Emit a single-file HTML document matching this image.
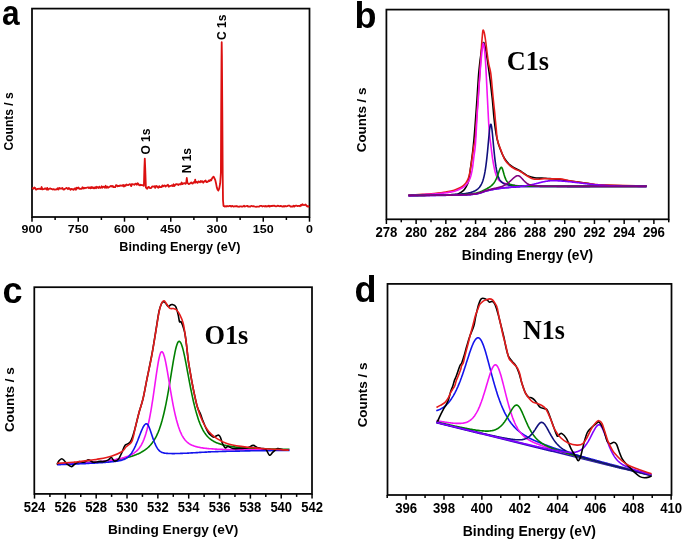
<!DOCTYPE html>
<html><head><meta charset="utf-8"><style>
html,body{margin:0;padding:0;background:#fff;}
body{width:685px;height:541px;overflow:hidden;}
svg{display:block;will-change:transform;}
</style></head><body>
<svg width="685" height="541" viewBox="0 0 685 541">
<rect width="685" height="541" fill="#fff"/>
<text transform="translate(2.0,24.5) scale(0.88,1)" x="0" y="0" style="font-family:'Liberation Sans',sans-serif;font-weight:bold;font-size:36px">a</text>
<rect x="32" y="8.6" width="277.50" height="208.40" fill="none" stroke="#050505" stroke-width="1.75"/>
<line x1="32.00" y1="217" x2="32.00" y2="221.7" stroke="#000" stroke-width="1.5"/>
<text transform="translate(32.00,233.0) scale(1.04,0.92)" text-anchor="middle" style="font-family:'Liberation Sans',sans-serif;font-weight:bold;font-size:12px">900</text>
<line x1="55.12" y1="217" x2="55.12" y2="220.0" stroke="#000" stroke-width="1.5"/>
<line x1="78.25" y1="217" x2="78.25" y2="221.7" stroke="#000" stroke-width="1.5"/>
<text transform="translate(78.25,233.0) scale(1.04,0.92)" text-anchor="middle" style="font-family:'Liberation Sans',sans-serif;font-weight:bold;font-size:12px">750</text>
<line x1="101.38" y1="217" x2="101.38" y2="220.0" stroke="#000" stroke-width="1.5"/>
<line x1="124.50" y1="217" x2="124.50" y2="221.7" stroke="#000" stroke-width="1.5"/>
<text transform="translate(124.50,233.0) scale(1.04,0.92)" text-anchor="middle" style="font-family:'Liberation Sans',sans-serif;font-weight:bold;font-size:12px">600</text>
<line x1="147.62" y1="217" x2="147.62" y2="220.0" stroke="#000" stroke-width="1.5"/>
<line x1="170.75" y1="217" x2="170.75" y2="221.7" stroke="#000" stroke-width="1.5"/>
<text transform="translate(170.75,233.0) scale(1.04,0.92)" text-anchor="middle" style="font-family:'Liberation Sans',sans-serif;font-weight:bold;font-size:12px">450</text>
<line x1="193.88" y1="217" x2="193.88" y2="220.0" stroke="#000" stroke-width="1.5"/>
<line x1="217.00" y1="217" x2="217.00" y2="221.7" stroke="#000" stroke-width="1.5"/>
<text transform="translate(217.00,233.0) scale(1.04,0.92)" text-anchor="middle" style="font-family:'Liberation Sans',sans-serif;font-weight:bold;font-size:12px">300</text>
<line x1="240.12" y1="217" x2="240.12" y2="220.0" stroke="#000" stroke-width="1.5"/>
<line x1="263.25" y1="217" x2="263.25" y2="221.7" stroke="#000" stroke-width="1.5"/>
<text transform="translate(263.25,233.0) scale(1.04,0.92)" text-anchor="middle" style="font-family:'Liberation Sans',sans-serif;font-weight:bold;font-size:12px">150</text>
<line x1="286.38" y1="217" x2="286.38" y2="220.0" stroke="#000" stroke-width="1.5"/>
<line x1="309.50" y1="217" x2="309.50" y2="221.7" stroke="#000" stroke-width="1.5"/>
<text transform="translate(309.50,233.0) scale(1.04,0.92)" text-anchor="middle" style="font-family:'Liberation Sans',sans-serif;font-weight:bold;font-size:12px">0</text>
<text x="179.9" y="250.5" text-anchor="middle" style="font-family:'Liberation Sans',sans-serif;font-weight:bold;font-size:12.7px">Binding Energy (eV)</text>
<text transform="translate(13,121.4) rotate(-90)" text-anchor="middle" style="font-family:'Liberation Sans',sans-serif;font-weight:bold;font-size:12px">Counts / s</text>
<text transform="translate(226.2,27.3) rotate(-90)" text-anchor="middle" style="font-family:'Liberation Sans',sans-serif;font-weight:bold;font-size:12px">C 1s</text>
<text transform="translate(149.6,141.6) rotate(-90)" text-anchor="middle" style="font-family:'Liberation Sans',sans-serif;font-weight:bold;font-size:12px">O 1s</text>
<text transform="translate(190.8,160.7) rotate(-90)" text-anchor="middle" style="font-family:'Liberation Sans',sans-serif;font-weight:bold;font-size:12px">N 1s</text>
<path d="M32.0 187.9L32.8 188.2L33.6 188.8L34.4 187.5L35.2 188.0L36.0 189.6L36.8 189.3L37.6 188.9L38.4 188.9L39.2 188.6L40.0 189.0L40.8 189.2L41.6 187.0L42.4 189.4L43.2 189.1L44.0 189.1L44.8 188.4L45.6 188.5L46.4 189.5L47.2 187.9L48.0 189.7L48.8 189.0L49.6 188.7L50.4 188.4L51.2 188.9L52.0 189.1L52.8 189.5L53.6 189.1L54.4 189.6L55.2 189.7L56.0 189.3L56.8 189.5L57.6 188.3L58.4 189.6L59.2 187.9L60.0 188.6L60.8 188.4L61.6 188.5L62.4 187.9L63.2 189.4L64.0 189.7L64.8 188.9L65.6 188.5L66.4 187.9L67.2 188.3L68.0 189.2L68.8 187.9L69.6 188.6L70.4 189.9L71.2 188.9L72.0 189.3L72.8 189.1L73.6 189.9L74.4 188.7L75.2 188.2L76.0 189.8L76.8 187.6L77.6 188.4L78.4 187.5L79.2 188.8L80.0 188.7L80.8 188.8L81.6 188.8L82.4 187.3L83.2 188.6L84.0 187.7L84.8 188.4L85.6 187.8L86.4 187.8L87.2 187.5L88.0 187.3L88.8 188.0L89.6 187.4L90.4 188.4L91.2 187.0L92.0 188.1L92.8 187.2L93.6 188.3L94.4 188.3L95.2 187.1L96.0 188.3L96.8 186.8L97.6 187.4L98.4 188.0L99.2 186.6L100.0 187.9L100.8 187.8L101.6 186.3L102.4 187.7L103.2 186.7L104.0 186.8L104.8 187.8L105.6 185.8L106.4 187.7L107.2 186.6L108.0 187.7L108.8 187.2L109.6 187.0L110.4 186.1L111.2 185.9L112.0 186.7L112.8 185.9L113.6 187.2L114.4 187.2L115.2 187.1L116.0 185.1L116.8 185.4L117.6 186.4L118.4 185.8L119.2 186.2L120.0 185.4L120.8 185.8L121.6 185.5L122.4 185.8L123.2 185.0L124.0 186.5L124.8 185.1L125.6 185.8L126.4 184.5L127.2 184.9L128.0 185.2L128.8 184.7L129.6 184.2L130.4 184.3L131.2 186.1L132.0 184.0L132.8 184.4L133.6 184.4L134.4 184.8L135.2 183.9L136.0 183.6L136.8 184.8L137.6 183.3L138.4 184.0L139.2 185.1L140.0 185.4L140.8 184.7L141.6 185.1L142.4 185.1L143.2 185.6L143.9 185.8L144.4 168.0L144.8 158.6L145.2 168.0L145.9 187.6L147.2 188.7L148.0 187.3L148.8 186.9L149.6 188.0L150.4 188.2L151.2 188.0L152.0 186.6L152.8 186.3L153.6 186.7L154.4 186.3L155.2 187.9L156.0 186.0L156.8 186.1L157.6 187.2L158.4 187.8L159.2 186.1L160.0 187.2L160.8 187.0L161.6 187.0L162.4 185.4L163.2 186.4L164.0 185.6L164.8 185.5L165.6 186.6L166.4 185.6L167.2 185.5L168.0 184.8L168.8 186.7L169.6 186.1L170.4 185.9L171.2 185.8L172.0 185.3L172.8 186.1L173.6 184.3L174.4 186.0L175.2 184.9L176.0 184.2L176.8 184.1L177.6 184.3L178.4 185.0L179.2 184.1L180.0 184.3L180.8 184.5L181.6 182.5L182.4 184.1L183.2 183.4L184.0 183.6L184.8 183.1L185.6 183.8L186.2 182.8L186.8 178.0L187.4 182.8L188.0 183.4L188.8 184.2L189.6 183.8L190.4 183.1L191.2 182.5L192.0 183.3L192.8 183.6L193.6 182.1L194.4 182.0L194.7 182.6L195.2 179.6L195.7 182.6L196.0 182.0L196.8 182.0L197.6 182.9L198.4 181.4L199.2 181.8L200.0 182.4L200.8 181.0L201.6 181.8L202.4 181.2L203.2 182.7L204.0 181.7L204.8 181.0L205.6 180.5L206.4 182.1L207.2 182.0L208.0 181.6L208.8 180.4L209.6 181.1L210.4 179.7L211.2 180.4L212.0 178.5L212.8 177.4L213.6 176.6L214.4 178.2L215.2 179.9L216.0 183.2L216.8 187.4L217.6 189.7L218.4 190.5L219.2 188.7L220.0 184.4L220.2 183.2L220.9 172.3L221.2 110.0L221.5 60.0L221.7 42.2L221.9 55.0L222.3 110.0L222.7 175.0L223.0 200.0L223.5 206.0L224.0 205.9L224.8 206.6L225.6 206.2L226.4 206.5L227.2 206.0L228.0 206.3L228.8 206.1L229.6 205.8L230.4 205.8L231.2 206.6L232.0 205.9L232.8 206.2L233.6 206.6L234.4 206.4L235.2 206.2L236.0 206.3L236.8 206.0L237.6 206.6L238.4 206.6L239.2 206.8L240.0 206.4L240.8 206.4L241.6 206.5L242.4 206.7L243.2 206.4L244.0 205.8L244.8 206.5L245.6 206.3L246.4 206.0L247.2 205.8L248.0 206.5L248.8 206.4L249.6 206.7L250.4 206.6L251.2 205.8L252.0 206.0L252.8 206.3L253.6 206.1L254.4 206.5L255.2 206.7L256.0 206.8L256.8 206.6L257.6 206.6L258.4 206.7L259.2 206.6L260.0 205.9L260.8 205.8L261.6 205.9L262.4 206.5L263.2 206.2L264.0 206.1L264.8 206.6L265.6 205.9L266.4 206.5L267.2 206.1L268.0 206.4L268.8 205.7L269.6 206.6L270.4 206.2L271.2 205.9L272.0 206.1L272.8 205.7L273.6 205.9L274.4 205.7L275.2 206.2L276.0 206.4L276.8 206.1L277.6 205.7L278.4 205.9L279.2 206.2L280.0 206.3L280.8 205.8L281.6 206.4L282.4 206.5L283.2 206.6L284.0 205.9L284.8 206.5L285.6 206.0L286.4 206.3L287.2 206.2L288.0 205.6L288.8 205.7L289.6 205.6L290.4 206.5L291.2 206.6L292.0 206.4L292.8 206.5L293.6 205.8L294.4 206.5L295.2 205.8L296.0 205.6L296.8 205.7L297.6 206.2L298.4 205.9L299.2 205.9L300.0 206.3L300.8 205.0L301.6 205.5L302.4 204.2L303.2 204.9L304.0 205.1L304.8 204.9L305.6 204.5L306.4 205.6L307.2 206.5L308.0 206.0L308.8 207.4" fill="none" stroke="#dc1010" stroke-width="1.8" stroke-linejoin="round"/>
<text x="354.5" y="28.3" style="font-family:'Liberation Sans',sans-serif;font-weight:bold;font-size:36px">b</text>
<rect x="386.4" y="9.6" width="282.30" height="209.70" fill="none" stroke="#050505" stroke-width="1.75"/>
<line x1="386.40" y1="219.3" x2="386.40" y2="224.0" stroke="#000" stroke-width="1.5"/>
<text transform="translate(386.40,237.1) scale(1.0,1.08)" text-anchor="middle" style="font-family:'Liberation Sans',sans-serif;font-weight:bold;font-size:13.2px">278</text>
<line x1="401.26" y1="219.3" x2="401.26" y2="222.3" stroke="#000" stroke-width="1.5"/>
<line x1="416.12" y1="219.3" x2="416.12" y2="224.0" stroke="#000" stroke-width="1.5"/>
<text transform="translate(416.12,237.1) scale(1.0,1.08)" text-anchor="middle" style="font-family:'Liberation Sans',sans-serif;font-weight:bold;font-size:13.2px">280</text>
<line x1="430.98" y1="219.3" x2="430.98" y2="222.3" stroke="#000" stroke-width="1.5"/>
<line x1="445.84" y1="219.3" x2="445.84" y2="224.0" stroke="#000" stroke-width="1.5"/>
<text transform="translate(445.84,237.1) scale(1.0,1.08)" text-anchor="middle" style="font-family:'Liberation Sans',sans-serif;font-weight:bold;font-size:13.2px">282</text>
<line x1="460.70" y1="219.3" x2="460.70" y2="222.3" stroke="#000" stroke-width="1.5"/>
<line x1="475.56" y1="219.3" x2="475.56" y2="224.0" stroke="#000" stroke-width="1.5"/>
<text transform="translate(475.56,237.1) scale(1.0,1.08)" text-anchor="middle" style="font-family:'Liberation Sans',sans-serif;font-weight:bold;font-size:13.2px">284</text>
<line x1="490.42" y1="219.3" x2="490.42" y2="222.3" stroke="#000" stroke-width="1.5"/>
<line x1="505.28" y1="219.3" x2="505.28" y2="224.0" stroke="#000" stroke-width="1.5"/>
<text transform="translate(505.28,237.1) scale(1.0,1.08)" text-anchor="middle" style="font-family:'Liberation Sans',sans-serif;font-weight:bold;font-size:13.2px">286</text>
<line x1="520.14" y1="219.3" x2="520.14" y2="222.3" stroke="#000" stroke-width="1.5"/>
<line x1="535.00" y1="219.3" x2="535.00" y2="224.0" stroke="#000" stroke-width="1.5"/>
<text transform="translate(535.00,237.1) scale(1.0,1.08)" text-anchor="middle" style="font-family:'Liberation Sans',sans-serif;font-weight:bold;font-size:13.2px">288</text>
<line x1="549.86" y1="219.3" x2="549.86" y2="222.3" stroke="#000" stroke-width="1.5"/>
<line x1="564.72" y1="219.3" x2="564.72" y2="224.0" stroke="#000" stroke-width="1.5"/>
<text transform="translate(564.72,237.1) scale(1.0,1.08)" text-anchor="middle" style="font-family:'Liberation Sans',sans-serif;font-weight:bold;font-size:13.2px">290</text>
<line x1="579.58" y1="219.3" x2="579.58" y2="222.3" stroke="#000" stroke-width="1.5"/>
<line x1="594.44" y1="219.3" x2="594.44" y2="224.0" stroke="#000" stroke-width="1.5"/>
<text transform="translate(594.44,237.1) scale(1.0,1.08)" text-anchor="middle" style="font-family:'Liberation Sans',sans-serif;font-weight:bold;font-size:13.2px">292</text>
<line x1="609.30" y1="219.3" x2="609.30" y2="222.3" stroke="#000" stroke-width="1.5"/>
<line x1="624.16" y1="219.3" x2="624.16" y2="224.0" stroke="#000" stroke-width="1.5"/>
<text transform="translate(624.16,237.1) scale(1.0,1.08)" text-anchor="middle" style="font-family:'Liberation Sans',sans-serif;font-weight:bold;font-size:13.2px">294</text>
<line x1="639.02" y1="219.3" x2="639.02" y2="222.3" stroke="#000" stroke-width="1.5"/>
<line x1="653.88" y1="219.3" x2="653.88" y2="224.0" stroke="#000" stroke-width="1.5"/>
<text transform="translate(653.88,237.1) scale(1.0,1.08)" text-anchor="middle" style="font-family:'Liberation Sans',sans-serif;font-weight:bold;font-size:13.2px">296</text>
<line x1="668.74" y1="219.3" x2="668.74" y2="222.3" stroke="#000" stroke-width="1.5"/>
<text x="527.5" y="259.4" text-anchor="middle" style="font-family:'Liberation Sans',sans-serif;font-weight:bold;font-size:13.75px" transform="translate(0,0.8)">Binding Energy (eV)</text>
<text transform="translate(366.3,119.9) rotate(-90)" text-anchor="middle" style="font-family:'Liberation Sans',sans-serif;font-weight:bold;font-size:13.4px">Counts / s</text>
<text transform="translate(506.7,69.9) scale(1.01,1.075)" style="font-family:'Liberation Serif',serif;font-weight:bold;font-size:26px">C1s</text>
<path d="M408.5 195.6L409.5 195.6L410.5 195.6L411.5 195.6L412.5 195.6L413.5 195.6L414.5 195.5L415.5 195.5L416.5 195.5L417.5 195.5L418.5 195.5L419.5 195.5L420.5 195.5L421.5 195.5L422.5 195.5L423.5 195.5L424.5 195.5L425.5 195.4L426.5 195.4L427.5 195.4L428.5 195.4L429.5 195.4L430.5 195.4L431.5 195.4L432.5 195.4L433.5 195.4L434.5 195.4L435.5 195.4L436.5 195.3L437.5 195.3L438.5 195.3L439.5 195.3L440.5 195.3L441.5 195.3L442.5 195.3L443.5 195.3L444.5 195.3L445.5 195.3L446.5 195.2L447.5 195.2L448.5 195.2L449.5 195.2L450.5 195.2L451.5 195.2L452.5 195.2L453.5 195.1L454.5 195.1L455.5 195.1L456.5 195.1L457.5 195.1L458.5 195.0L459.5 195.0L460.5 195.0L461.5 195.0L462.5 194.9L463.5 194.9L464.5 194.8L465.5 194.8L466.5 194.8L467.5 194.7L468.5 194.7L469.5 194.6L470.5 194.5L471.5 194.4L472.5 194.3L473.5 194.2L474.5 194.1L475.5 194.0L476.5 193.8L477.5 193.6L478.5 193.4L479.5 193.1L480.5 192.9L481.5 192.5L482.5 192.2L483.5 191.8L484.5 191.5L485.5 191.1L486.5 190.9L487.5 190.6L488.5 190.4L489.5 190.1L490.5 189.9L491.5 189.7L492.5 189.5L493.5 189.3L494.5 189.1L495.5 189.0L496.5 188.8L497.5 188.7L498.5 188.5L499.5 188.4L500.5 188.3L501.5 188.2L502.5 188.1L503.5 187.9L504.5 187.8L505.5 187.7L506.5 187.6L507.5 187.6L508.5 187.5L509.5 187.4L510.5 187.3L511.5 187.2L512.5 187.1L513.5 187.1L514.5 187.0L515.5 187.0L516.5 186.9L517.5 186.9L518.5 186.8L519.5 186.8L520.5 186.7L521.5 186.7L522.5 186.7L523.5 186.6L524.5 186.6L525.5 186.6L526.5 186.6L527.5 186.6L528.5 186.6L529.5 186.6L530.5 186.6L531.5 186.6L532.5 186.6L533.5 186.6L534.5 186.6L535.5 186.6L536.5 186.5L537.5 186.5L538.5 186.5L539.5 186.5L540.5 186.5L541.5 186.5L542.5 186.5L543.5 186.5L544.5 186.5L545.5 186.5L546.5 186.5L547.5 186.5L548.5 186.5L549.5 186.5L550.5 186.5L551.5 186.5L552.5 186.5L553.5 186.5L554.5 186.5L555.5 186.5L556.5 186.5L557.5 186.5L558.5 186.5L559.5 186.5L560.5 186.5L561.5 186.5L562.5 186.5L563.5 186.5L564.5 186.5L565.5 186.5L566.5 186.5L567.5 186.5L568.5 186.5L569.5 186.5L570.5 186.5L571.5 186.5L572.5 186.5L573.5 186.5L574.5 186.5L575.5 186.5L576.5 186.5L577.5 186.5L578.5 186.5L579.5 186.5L580.5 186.5L581.5 186.5L582.5 186.5L583.5 186.5L584.5 186.5L585.5 186.5L586.5 186.5L587.5 186.5L588.5 186.5L589.5 186.5L590.5 186.4L591.5 186.4L592.5 186.4L593.5 186.4L594.5 186.4L595.5 186.4L596.5 186.4L597.5 186.4L598.5 186.4L599.5 186.4L600.5 186.4L601.5 186.4L602.5 186.4L603.5 186.4L604.5 186.4L605.5 186.4L606.5 186.4L607.5 186.4L608.5 186.4L609.5 186.4L610.5 186.4L611.5 186.4L612.5 186.4L613.5 186.4L614.5 186.4L615.5 186.4L616.5 186.4L617.5 186.4L618.5 186.4L619.5 186.4L620.5 186.4L621.5 186.4L622.5 186.4L623.5 186.4L624.5 186.4L625.5 186.4L626.5 186.4L627.5 186.4L628.5 186.4L629.5 186.4L630.5 186.4L631.5 186.4L632.5 186.4L633.5 186.4L634.5 186.4L635.5 186.4L636.5 186.4L637.5 186.4L638.5 186.4L639.5 186.4L640.5 186.4L641.5 186.4L642.5 186.4L643.5 186.4L644.5 186.4L645.5 186.4L646.5 186.4" fill="none" stroke="#4010c0" stroke-width="1.8"/>
<path d="M408.5 195.3C413.8 195.2 432.2 195.0 440.0 194.9C447.8 194.8 451.9 194.8 455.0 194.6C458.1 194.4 457.2 194.3 458.6 193.6C460.0 192.9 462.1 191.7 463.3 190.6C464.6 189.5 465.2 188.5 466.1 186.9C467.0 185.3 467.9 183.9 468.6 180.9C469.3 177.9 469.7 174.1 470.4 169.2C471.1 164.3 472.1 156.6 472.7 151.7C473.3 146.8 473.4 145.3 473.9 140.0C474.4 134.7 475.0 126.8 475.5 120.0C476.0 113.2 476.4 107.3 477.0 99.0C477.6 90.7 478.2 78.2 479.0 70.0C479.8 61.8 480.8 54.5 481.5 50.0C482.2 45.5 482.8 43.5 483.3 42.7C483.9 42.0 484.3 43.8 484.8 45.5C485.3 47.2 485.7 49.2 486.3 53.0C486.9 56.8 487.8 63.0 488.5 68.0C489.2 73.0 489.9 77.8 490.5 83.0C491.1 88.2 491.7 93.2 492.3 99.0C492.9 104.8 493.5 113.2 494.0 118.0C494.5 122.8 494.7 124.6 495.2 128.0C495.7 131.4 496.2 135.1 497.0 138.5C497.8 141.9 498.6 145.0 499.9 148.3C501.1 151.6 502.8 155.7 504.5 158.5C506.2 161.3 508.1 163.3 509.9 164.9C511.6 166.5 513.3 167.3 515.0 168.3C516.7 169.3 518.5 169.9 520.0 170.8C521.5 171.7 522.5 172.6 524.0 173.5C525.5 174.4 527.0 175.6 528.8 176.3C530.6 177.0 532.8 177.4 534.6 177.7C536.4 178.0 537.9 178.0 539.5 178.1C541.1 178.2 542.8 178.1 544.5 178.2C546.2 178.3 548.1 178.4 550.0 178.6C551.9 178.8 553.0 178.8 556.0 179.2C559.0 179.6 562.9 180.1 568.0 180.8C573.1 181.5 581.6 182.5 586.9 183.2C592.2 183.9 590.0 184.5 600.0 185.0C610.0 185.5 638.9 186.0 646.7 186.2" fill="none" stroke="#000" stroke-width="1.6"/>
<path d="M408.5 195.1C410.8 195.0 418.2 194.6 422.5 194.3C426.8 194.0 430.3 193.9 434.2 193.5C438.1 193.1 442.6 192.6 445.9 192.0C449.2 191.4 451.6 191.0 454.1 190.2C456.6 189.4 459.2 188.5 461.1 187.3C463.0 186.1 464.4 184.8 465.7 183.2C466.9 181.5 467.8 179.7 468.6 177.4C469.4 175.1 469.8 172.5 470.4 169.2C471.0 165.9 471.6 161.4 472.2 157.5C472.8 153.6 473.4 148.7 473.9 145.8C474.4 142.9 474.7 144.3 475.1 140.0C475.5 135.7 476.0 126.8 476.5 120.0C477.0 113.2 477.4 107.6 478.0 99.2C478.6 90.8 479.5 78.6 480.1 69.6C480.7 60.6 481.2 50.8 481.6 45.0C482.0 39.2 482.2 37.5 482.4 35.0C482.6 32.5 482.7 30.6 483.0 30.2C483.3 29.8 483.8 30.9 484.2 32.5C484.6 34.1 485.0 36.8 485.5 40.0C486.0 43.2 486.5 48.0 487.0 52.0C487.5 56.0 488.1 60.5 488.7 64.0C489.3 67.5 490.0 68.2 490.7 72.9C491.4 77.6 492.0 85.8 492.6 92.3C493.2 98.8 494.1 107.0 494.6 111.7C495.1 116.4 495.1 117.5 495.4 120.5C495.7 123.5 496.0 126.3 496.3 129.5C496.6 132.7 496.6 136.5 497.4 139.9C498.1 143.3 499.6 146.6 500.8 149.9C502.1 153.2 503.4 157.3 504.9 159.9C506.4 162.5 508.2 164.2 509.9 165.7C511.6 167.2 513.2 168.1 514.9 169.0C516.6 169.9 518.2 170.2 520.0 171.2C521.8 172.2 523.8 173.9 525.8 175.1C527.8 176.3 529.8 177.7 531.7 178.4C533.7 179.1 535.4 179.3 537.5 179.3C539.6 179.3 542.4 178.7 544.5 178.6C546.6 178.5 547.8 178.8 550.4 178.9C553.0 179.0 557.1 178.7 560.0 178.9C562.9 179.2 564.8 179.8 568.0 180.4C571.2 181.0 574.9 181.7 579.3 182.3C583.7 182.9 590.1 183.7 594.5 184.2C598.9 184.7 597.2 184.8 605.9 185.1C614.6 185.4 639.9 185.9 646.7 186.1" fill="none" stroke="#e41c1c" stroke-width="1.6"/>
<path d="M408.5 195.5L409.5 195.4L410.5 195.4L411.5 195.3L412.5 195.2L413.5 195.2L414.5 195.1L415.5 195.0L416.5 195.0L417.5 194.9L418.5 194.8L419.5 194.8L420.5 194.7L421.5 194.7L422.5 194.6L423.5 194.5L424.5 194.5L425.5 194.4L426.5 194.4L427.5 194.4L428.5 194.3L429.5 194.3L430.5 194.2L431.5 194.2L432.5 194.1L433.5 194.0L434.5 194.0L435.5 193.9L436.5 193.8L437.5 193.7L438.5 193.7L439.5 193.6L440.5 193.5L441.5 193.3L442.5 193.2L443.5 193.1L444.5 193.0L445.5 192.9L446.5 192.7L447.5 192.6L448.5 192.4L449.5 192.3L450.5 192.1L451.5 191.9L452.5 191.7L453.5 191.5L454.5 191.2L455.5 191.0L456.5 190.6L457.5 190.2L458.5 189.8L459.5 189.3L460.5 188.8L461.5 188.3L462.5 187.7L463.5 187.1L464.5 186.4L465.5 185.5L466.5 184.4L467.5 183.1L468.0 182.4L468.2 182.1L468.4 181.7L468.6 181.4L468.8 181.0L469.0 180.6L469.2 180.2L469.4 179.8L469.6 179.3L469.8 178.9L470.0 178.4L470.2 177.9L470.4 177.3L470.6 176.7L470.8 176.0L471.0 175.2L471.2 174.5L471.4 173.6L471.6 172.7L471.8 171.8L472.0 170.8L472.2 169.7L472.4 168.6L472.6 167.3L472.8 165.8L473.0 164.2L473.2 162.5L473.4 160.8L473.6 159.1L473.8 157.5L474.0 156.0L474.2 154.6L474.4 153.2L474.6 151.8L474.8 150.3L475.0 148.7L475.2 146.8L475.4 144.6L475.6 141.9L475.8 138.7L476.0 135.3L476.2 131.7L476.4 128.2L476.6 124.4L476.8 120.4L477.0 116.7L477.2 113.5L477.4 110.6L477.6 108.0L477.8 105.4L478.0 102.8L478.2 100.0L478.4 97.0L478.6 93.8L478.8 90.5L479.0 87.4L479.2 84.4L479.4 81.6L479.6 78.8L479.8 76.1L480.0 73.4L480.2 70.9L480.4 68.3L480.6 65.9L480.8 63.5L481.0 61.1L481.2 59.0L481.4 57.0L481.6 55.0L481.8 53.1L482.0 51.3L482.2 49.7L482.4 48.3L482.6 46.7L482.8 45.2L483.0 44.0L483.2 43.3L483.4 43.3L483.6 43.8L483.8 44.6L484.0 45.8L484.2 47.1L484.4 48.5L484.6 50.1L484.8 52.2L485.0 54.6L485.2 57.2L485.4 60.0L485.6 63.0L485.8 66.5L486.0 70.2L486.2 73.9L486.4 77.8L486.6 81.9L486.8 85.9L487.0 89.9L487.2 94.0L487.4 98.0L487.6 102.0L487.8 105.9L488.0 109.8L488.2 113.7L488.4 117.7L488.6 121.6L488.8 125.0L489.0 127.9L489.2 130.5L489.4 132.9L489.6 135.0L489.8 136.9L490.0 138.5L490.2 140.1L490.4 141.6L490.6 143.1L490.8 144.7L491.0 146.4L491.2 148.0L491.4 149.6L491.6 151.3L491.8 152.9L492.0 154.4L492.2 155.9L492.4 157.3L492.6 158.7L492.8 159.9L493.0 161.2L493.2 162.4L493.4 163.6L493.6 164.7L493.8 165.7L494.0 166.7L494.2 167.6L494.4 168.6L494.6 169.5L494.8 170.4L495.0 171.2L495.2 172.0L495.4 172.7L495.6 173.4L495.8 174.0L496.0 174.6L496.2 175.1L496.4 175.6L496.6 176.1L496.8 176.5L497.0 177.0L497.2 177.4L497.4 177.8L497.6 178.2L497.8 178.6L498.0 178.9L498.2 179.3L498.4 179.6L498.6 179.8L498.8 180.1L499.0 180.3L499.2 180.5L499.4 180.7L499.6 180.8L499.8 181.0L500.0 181.1L501.0 181.8L502.0 182.3L503.0 182.7L504.0 183.1L505.0 183.4L506.0 183.8L507.0 184.1L508.0 184.4L509.0 184.7L510.0 184.9L511.0 185.1L512.0 185.2L513.0 185.3L514.0 185.4L515.0 185.5L516.0 185.6L517.0 185.6L518.0 185.7L519.0 185.7L520.0 185.8L521.0 185.8L522.0 185.8L523.0 185.9L524.0 185.9L525.0 185.9L526.0 185.9L527.0 185.9L528.0 185.9L529.0 186.0L530.0 186.0L531.0 186.0L532.0 186.0L533.0 186.0L534.0 186.0L535.0 186.0L536.0 186.0L537.0 186.1L538.0 186.1L539.0 186.1L540.0 186.1L541.0 186.1L542.0 186.1L543.0 186.1L544.0 186.1L545.0 186.1L546.0 186.1L547.0 186.1L548.0 186.2L549.0 186.2L550.0 186.2L551.0 186.2L552.0 186.2L553.0 186.2L554.0 186.2L555.0 186.2L556.0 186.2L557.0 186.2L558.0 186.2L559.0 186.2L560.0 186.2L561.0 186.2L562.0 186.2L563.0 186.2L564.0 186.2L565.0 186.2L566.0 186.2L567.0 186.2L568.0 186.2L569.0 186.2L570.0 186.2L571.0 186.2L572.0 186.2L573.0 186.2L574.0 186.2L575.0 186.2L576.0 186.2L577.0 186.2L578.0 186.2L579.0 186.2L580.0 186.2L581.0 186.2L582.0 186.2L583.0 186.2L584.0 186.2L585.0 186.2L586.0 186.3L587.0 186.3L588.0 186.3L589.0 186.3L590.0 186.3L591.0 186.3L592.0 186.3L593.0 186.3L594.0 186.3L595.0 186.3L596.0 186.3L597.0 186.3L598.0 186.3L599.0 186.3L600.0 186.3L601.0 186.3L602.0 186.3L603.0 186.3L604.0 186.3L605.0 186.3L606.0 186.3L607.0 186.3L608.0 186.3L609.0 186.3L610.0 186.3L611.0 186.3L612.0 186.3L613.0 186.3L614.0 186.3L615.0 186.3L616.0 186.3L617.0 186.3L618.0 186.3L619.0 186.3L620.0 186.3L621.0 186.3L622.0 186.3L623.0 186.3L624.0 186.3L625.0 186.3L626.0 186.3L627.0 186.3L628.0 186.3L629.0 186.3L630.0 186.3L631.0 186.3L632.0 186.3L633.0 186.3L634.0 186.3L635.0 186.3L636.0 186.3L637.0 186.3L638.0 186.3L639.0 186.3L640.0 186.3L641.0 186.3L642.0 186.3L643.0 186.3L644.0 186.3L645.0 186.3L646.0 186.3" fill="none" stroke="#f414f4" stroke-width="1.6" stroke-linejoin="round"/>
<path d="M408.5 195.5L409.0 195.5L409.5 195.5L410.0 195.5L410.5 195.5L411.0 195.4L411.5 195.4L412.0 195.4L412.5 195.4L413.0 195.4L413.5 195.4L414.0 195.4L414.5 195.4L415.0 195.4L415.5 195.4L416.0 195.4L416.5 195.4L417.0 195.4L417.5 195.4L418.0 195.4L418.5 195.3L419.0 195.3L419.5 195.3L420.0 195.3L420.5 195.3L421.0 195.3L421.5 195.3L422.0 195.3L422.5 195.3L423.0 195.3L423.5 195.3L424.0 195.3L424.5 195.3L425.0 195.3L425.5 195.2L426.0 195.2L426.5 195.2L427.0 195.2L427.5 195.2L428.0 195.2L428.5 195.2L429.0 195.2L429.5 195.2L430.0 195.2L430.5 195.2L431.0 195.2L431.5 195.1L432.0 195.1L432.5 195.1L433.0 195.1L433.5 195.1L434.0 195.1L434.5 195.1L435.0 195.1L435.5 195.1L436.0 195.1L436.5 195.1L437.0 195.0L437.5 195.0L438.0 195.0L438.5 195.0L439.0 195.0L439.5 195.0L440.0 195.0L440.5 195.0L441.0 195.0L441.5 195.0L442.0 194.9L442.5 194.9L443.0 194.9L443.5 194.9L444.0 194.9L444.5 194.9L445.0 194.9L445.5 194.9L446.0 194.8L446.5 194.8L447.0 194.8L447.5 194.8L448.0 194.8L448.5 194.8L449.0 194.7L449.5 194.7L450.0 194.7L450.5 194.7L451.0 194.7L451.5 194.6L452.0 194.6L452.5 194.6L453.0 194.6L453.5 194.5L454.0 194.5L454.5 194.5L455.0 194.5L455.5 194.4L456.0 194.4L456.5 194.4L457.0 194.3L457.5 194.3L458.0 194.3L458.5 194.2L459.0 194.2L459.5 194.2L460.0 194.1L460.5 194.1L461.0 194.0L461.5 194.0L462.0 193.9L462.5 193.9L463.0 193.8L463.5 193.8L464.0 193.7L464.5 193.7L465.0 193.6L465.5 193.5L466.0 193.5L466.5 193.4L467.0 193.3L467.5 193.2L468.0 193.1L468.5 193.0L469.0 192.9L469.5 192.8L470.0 192.7L470.5 192.6L471.0 192.4L471.5 192.3L472.0 192.1L472.5 191.9L473.0 191.8L473.5 191.6L474.0 191.3L474.5 191.1L475.0 190.9L475.5 190.6L476.0 190.3L476.5 190.0L477.0 189.6L477.5 189.2L478.0 188.8L478.5 188.3L479.0 187.8L479.5 187.2L480.0 186.5L480.5 185.8L481.0 185.0L481.5 184.0L482.0 182.9L482.5 181.7L483.0 180.2L483.5 178.5L484.0 176.6L484.5 174.3L485.0 171.7L485.5 168.7L486.0 165.2L486.5 161.2L487.0 156.7L487.5 151.8L488.0 146.4L488.5 140.9L489.0 135.4L489.5 130.5L490.0 126.7L490.5 124.5L491.0 124.3L491.5 126.2L492.0 129.8L492.5 134.6L493.0 140.0L493.5 145.5L494.0 150.7L494.5 155.5L495.0 159.8L495.5 163.6L496.0 166.9L496.5 169.7L497.0 172.1L497.5 174.0L498.0 175.7L498.5 177.1L499.0 178.3L499.5 179.3L500.0 180.1L500.5 180.8L501.0 181.4L501.5 181.9L502.0 182.4L502.5 182.8L503.0 183.1L503.5 183.4L504.0 183.7L504.5 183.9L505.0 184.1L505.5 184.3L506.0 184.4L506.5 184.6L507.0 184.7L507.5 184.8L508.0 184.9L508.5 185.0L509.0 185.1L509.5 185.2L510.0 185.2L510.5 185.3L511.0 185.4L511.5 185.4L512.0 185.5L512.5 185.5L513.0 185.5L513.5 185.6L514.0 185.6L514.5 185.6L515.0 185.7L515.5 185.7L516.0 185.7L516.5 185.7L517.0 185.8L517.5 185.8L518.0 185.8L518.5 185.8L519.0 185.8L519.5 185.8L520.0 185.8L520.5 185.8L521.0 185.9L521.5 185.9L522.0 185.9L522.5 185.9L523.0 185.9L523.5 185.9L524.0 185.9L524.5 185.9L525.0 185.9L525.5 185.9L526.0 186.0L526.5 186.0L527.0 186.0L527.5 186.0L528.0 186.0L528.5 186.0L529.0 186.0L529.5 186.1L530.0 186.1L530.5 186.1L531.0 186.1L531.5 186.1L532.0 186.1L532.5 186.1L533.0 186.1L533.5 186.1L534.0 186.1L534.5 186.1L535.0 186.1L535.5 186.2L536.0 186.2L536.5 186.2L537.0 186.2L537.5 186.2L538.0 186.2L538.5 186.2L539.0 186.2L539.5 186.2L540.0 186.2L540.5 186.2L541.0 186.2L541.5 186.2L542.0 186.2L542.5 186.2L543.0 186.2L543.5 186.2L544.0 186.2L544.5 186.3L545.0 186.3L545.5 186.3L546.0 186.3L546.5 186.3L547.0 186.3L547.5 186.3L548.0 186.3L548.5 186.3L549.0 186.3L549.5 186.3L550.0 186.3L550.5 186.3L551.0 186.3L551.5 186.3L552.0 186.3L552.5 186.3L553.0 186.3L553.5 186.3L554.0 186.3L554.5 186.3L555.0 186.3L555.5 186.3L556.0 186.3L556.5 186.3L557.0 186.3L557.5 186.3L558.0 186.3L558.5 186.3L559.0 186.3L559.5 186.3L560.0 186.3L560.5 186.3L561.0 186.3L561.5 186.3L562.0 186.3L562.5 186.3L563.0 186.3L563.5 186.3L564.0 186.3L564.5 186.3L565.0 186.3L565.5 186.3L566.0 186.3L566.5 186.3L567.0 186.3L567.5 186.4L568.0 186.4L568.5 186.4L569.0 186.4L569.5 186.4L570.0 186.4L570.5 186.4L571.0 186.4L571.5 186.4L572.0 186.4L572.5 186.4L573.0 186.4L573.5 186.4L574.0 186.4L574.5 186.4L575.0 186.4L575.5 186.4L576.0 186.4L576.5 186.4L577.0 186.4L577.5 186.4L578.0 186.4L578.5 186.4L579.0 186.4L579.5 186.4L580.0 186.4L580.5 186.4L581.0 186.4L581.5 186.4L582.0 186.4L582.5 186.4L583.0 186.4L583.5 186.4L584.0 186.4L584.5 186.4L585.0 186.4L585.5 186.4L586.0 186.4L586.5 186.4L587.0 186.4L587.5 186.4L588.0 186.4L588.5 186.4L589.0 186.4L589.5 186.4L590.0 186.4L590.5 186.4L591.0 186.4L591.5 186.4L592.0 186.4L592.5 186.4L593.0 186.4L593.5 186.4L594.0 186.4L594.5 186.4L595.0 186.4L595.5 186.4L596.0 186.4L596.5 186.4L597.0 186.4L597.5 186.4L598.0 186.4L598.5 186.4L599.0 186.4L599.5 186.4L600.0 186.4L600.5 186.4L601.0 186.4L601.5 186.4L602.0 186.4L602.5 186.4L603.0 186.4L603.5 186.4L604.0 186.4L604.5 186.4L605.0 186.4L605.5 186.4L606.0 186.4L606.5 186.4L607.0 186.4L607.5 186.4L608.0 186.4L608.5 186.4L609.0 186.4L609.5 186.4L610.0 186.4L610.5 186.4L611.0 186.4L611.5 186.4L612.0 186.4L612.5 186.4L613.0 186.4L613.5 186.4L614.0 186.4L614.5 186.4L615.0 186.4L615.5 186.4L616.0 186.4L616.5 186.4L617.0 186.4L617.5 186.4L618.0 186.4L618.5 186.4L619.0 186.4L619.5 186.4L620.0 186.4L620.5 186.4L621.0 186.4L621.5 186.4L622.0 186.4L622.5 186.4L623.0 186.4L623.5 186.4L624.0 186.4L624.5 186.4L625.0 186.4L625.5 186.4L626.0 186.4L626.5 186.4L627.0 186.4L627.5 186.4L628.0 186.4L628.5 186.4L629.0 186.4L629.5 186.4L630.0 186.4L630.5 186.4L631.0 186.4L631.5 186.4L632.0 186.4L632.5 186.4L633.0 186.4L633.5 186.4L634.0 186.4L634.5 186.4L635.0 186.4L635.5 186.4L636.0 186.4L636.5 186.4L637.0 186.4L637.5 186.4L638.0 186.4L638.5 186.4L639.0 186.4L639.5 186.4L640.0 186.4L640.5 186.4L641.0 186.4L641.5 186.4L642.0 186.4L642.5 186.4L643.0 186.4L643.5 186.4L644.0 186.4L644.5 186.4L645.0 186.4L645.5 186.4L646.0 186.4L646.5 186.4" fill="none" stroke="#10107c" stroke-width="1.6" stroke-linejoin="round"/>
<path d="M408.5 195.5L409.0 195.5L409.5 195.5L410.0 195.5L410.5 195.5L411.0 195.5L411.5 195.5L412.0 195.5L412.5 195.5L413.0 195.5L413.5 195.5L414.0 195.5L414.5 195.5L415.0 195.5L415.5 195.5L416.0 195.5L416.5 195.5L417.0 195.5L417.5 195.4L418.0 195.4L418.5 195.4L419.0 195.4L419.5 195.4L420.0 195.4L420.5 195.4L421.0 195.4L421.5 195.4L422.0 195.4L422.5 195.4L423.0 195.4L423.5 195.4L424.0 195.4L424.5 195.4L425.0 195.4L425.5 195.4L426.0 195.4L426.5 195.3L427.0 195.3L427.5 195.3L428.0 195.3L428.5 195.3L429.0 195.3L429.5 195.3L430.0 195.3L430.5 195.3L431.0 195.3L431.5 195.3L432.0 195.3L432.5 195.3L433.0 195.3L433.5 195.3L434.0 195.3L434.5 195.3L435.0 195.2L435.5 195.2L436.0 195.2L436.5 195.2L437.0 195.2L437.5 195.2L438.0 195.2L438.5 195.2L439.0 195.2L439.5 195.2L440.0 195.2L440.5 195.2L441.0 195.2L441.5 195.2L442.0 195.2L442.5 195.1L443.0 195.1L443.5 195.1L444.0 195.1L444.5 195.1L445.0 195.1L445.5 195.1L446.0 195.1L446.5 195.1L447.0 195.1L447.5 195.1L448.0 195.1L448.5 195.0L449.0 195.0L449.5 195.0L450.0 195.0L450.5 195.0L451.0 195.0L451.5 195.0L452.0 195.0L452.5 195.0L453.0 194.9L453.5 194.9L454.0 194.9L454.5 194.9L455.0 194.9L455.5 194.9L456.0 194.9L456.5 194.8L457.0 194.8L457.5 194.8L458.0 194.8L458.5 194.8L459.0 194.8L459.5 194.7L460.0 194.7L460.5 194.7L461.0 194.7L461.5 194.6L462.0 194.6L462.5 194.6L463.0 194.6L463.5 194.5L464.0 194.5L464.5 194.5L465.0 194.5L465.5 194.4L466.0 194.4L466.5 194.4L467.0 194.3L467.5 194.3L468.0 194.3L468.5 194.2L469.0 194.2L469.5 194.1L470.0 194.1L470.5 194.0L471.0 194.0L471.5 193.9L472.0 193.8L472.5 193.8L473.0 193.7L473.5 193.6L474.0 193.5L474.5 193.4L475.0 193.4L475.5 193.3L476.0 193.2L476.5 193.1L477.0 192.9L477.5 192.8L478.0 192.6L478.5 192.5L479.0 192.3L479.5 192.2L480.0 192.0L480.5 191.8L481.0 191.6L481.5 191.4L482.0 191.1L482.5 190.9L483.0 190.6L483.5 190.4L484.0 190.1L484.5 189.9L485.0 189.6L485.5 189.4L486.0 189.1L486.5 188.9L487.0 188.6L487.5 188.3L488.0 188.0L488.5 187.7L489.0 187.4L489.5 187.1L490.0 186.8L490.5 186.4L491.0 186.0L491.5 185.6L492.0 185.1L492.5 184.6L493.0 184.1L493.5 183.5L494.0 182.9L494.5 182.1L495.0 181.3L495.5 180.4L496.0 179.4L496.5 178.3L497.0 177.1L497.5 175.8L498.0 174.4L498.5 173.0L499.0 171.5L499.5 170.1L500.0 168.9L500.5 168.0L501.0 167.4L501.5 167.3L502.0 167.9L502.5 169.1L503.0 170.7L503.5 172.5L504.0 174.3L504.5 175.9L505.0 177.4L505.5 178.7L506.0 179.8L506.5 180.7L507.0 181.5L507.5 182.1L508.0 182.7L508.5 183.2L509.0 183.5L509.5 183.9L510.0 184.2L510.5 184.4L511.0 184.6L511.5 184.8L512.0 185.0L512.5 185.1L513.0 185.2L513.5 185.4L514.0 185.4L514.5 185.5L515.0 185.6L515.5 185.7L516.0 185.7L516.5 185.8L517.0 185.8L517.5 185.9L518.0 185.9L518.5 185.9L519.0 185.9L519.5 186.0L520.0 186.0L520.5 186.0L521.0 186.0L521.5 186.0L522.0 186.0L522.5 186.1L523.0 186.1L523.5 186.1L524.0 186.1L524.5 186.1L525.0 186.1L525.5 186.1L526.0 186.2L526.5 186.2L527.0 186.2L527.5 186.2L528.0 186.2L528.5 186.2L529.0 186.2L529.5 186.2L530.0 186.2L530.5 186.3L531.0 186.3L531.5 186.3L532.0 186.3L532.5 186.3L533.0 186.3L533.5 186.3L534.0 186.3L534.5 186.3L535.0 186.3L535.5 186.3L536.0 186.3L536.5 186.3L537.0 186.3L537.5 186.3L538.0 186.3L538.5 186.3L539.0 186.3L539.5 186.3L540.0 186.4L540.5 186.4L541.0 186.4L541.5 186.4L542.0 186.4L542.5 186.4L543.0 186.4L543.5 186.4L544.0 186.4L544.5 186.4L545.0 186.4L545.5 186.4L546.0 186.4L546.5 186.4L547.0 186.4L547.5 186.4L548.0 186.4L548.5 186.4L549.0 186.4L549.5 186.4L550.0 186.4L550.5 186.4L551.0 186.4L551.5 186.4L552.0 186.4L552.5 186.4L553.0 186.4L553.5 186.4L554.0 186.4L554.5 186.4L555.0 186.4L555.5 186.4L556.0 186.4L556.5 186.4L557.0 186.4L557.5 186.4L558.0 186.4L558.5 186.4L559.0 186.4L559.5 186.4L560.0 186.4L560.5 186.4L561.0 186.4L561.5 186.4L562.0 186.4L562.5 186.4L563.0 186.4L563.5 186.4L564.0 186.4L564.5 186.4L565.0 186.4L565.5 186.4L566.0 186.4L566.5 186.4L567.0 186.4L567.5 186.4L568.0 186.4L568.5 186.4L569.0 186.4L569.5 186.4L570.0 186.4L570.5 186.4L571.0 186.4L571.5 186.4L572.0 186.4L572.5 186.4L573.0 186.4L573.5 186.4L574.0 186.4L574.5 186.4L575.0 186.4L575.5 186.4L576.0 186.4L576.5 186.4L577.0 186.4L577.5 186.4L578.0 186.4L578.5 186.4L579.0 186.4L579.5 186.4L580.0 186.4L580.5 186.4L581.0 186.4L581.5 186.4L582.0 186.4L582.5 186.4L583.0 186.4L583.5 186.4L584.0 186.4L584.5 186.4L585.0 186.4L585.5 186.4L586.0 186.4L586.5 186.4L587.0 186.4L587.5 186.4L588.0 186.4L588.5 186.4L589.0 186.4L589.5 186.4L590.0 186.4L590.5 186.4L591.0 186.4L591.5 186.4L592.0 186.4L592.5 186.4L593.0 186.4L593.5 186.4L594.0 186.4L594.5 186.4L595.0 186.4L595.5 186.4L596.0 186.4L596.5 186.4L597.0 186.4L597.5 186.4L598.0 186.4L598.5 186.4L599.0 186.4L599.5 186.4L600.0 186.4L600.5 186.4L601.0 186.4L601.5 186.4L602.0 186.4L602.5 186.4L603.0 186.4L603.5 186.4L604.0 186.4L604.5 186.4L605.0 186.4L605.5 186.4L606.0 186.4L606.5 186.4L607.0 186.4L607.5 186.4L608.0 186.4L608.5 186.4L609.0 186.4L609.5 186.4L610.0 186.4L610.5 186.4L611.0 186.4L611.5 186.4L612.0 186.4L612.5 186.4L613.0 186.4L613.5 186.4L614.0 186.4L614.5 186.4L615.0 186.4L615.5 186.4L616.0 186.4L616.5 186.4L617.0 186.4L617.5 186.4L618.0 186.4L618.5 186.4L619.0 186.4L619.5 186.4L620.0 186.4L620.5 186.4L621.0 186.4L621.5 186.4L622.0 186.4L622.5 186.4L623.0 186.4L623.5 186.4L624.0 186.4L624.5 186.4L625.0 186.4L625.5 186.4L626.0 186.4L626.5 186.4L627.0 186.4L627.5 186.4L628.0 186.4L628.5 186.4L629.0 186.4L629.5 186.4L630.0 186.4L630.5 186.4L631.0 186.4L631.5 186.4L632.0 186.4L632.5 186.4L633.0 186.4L633.5 186.4L634.0 186.4L634.5 186.4L635.0 186.4L635.5 186.4L636.0 186.4L636.5 186.4L637.0 186.4L637.5 186.4L638.0 186.4L638.5 186.4L639.0 186.4L639.5 186.4L640.0 186.4L640.5 186.4L641.0 186.4L641.5 186.4L642.0 186.4L642.5 186.4L643.0 186.4L643.5 186.4L644.0 186.4L644.5 186.4L645.0 186.4L645.5 186.4L646.0 186.4L646.5 186.4" fill="none" stroke="#008000" stroke-width="1.6" stroke-linejoin="round"/>
<path d="M408.5 195.6L409.0 195.6L409.5 195.6L410.0 195.6L410.5 195.6L411.0 195.6L411.5 195.6L412.0 195.6L412.5 195.6L413.0 195.6L413.5 195.6L414.0 195.6L414.5 195.5L415.0 195.5L415.5 195.5L416.0 195.5L416.5 195.5L417.0 195.5L417.5 195.5L418.0 195.5L418.5 195.5L419.0 195.5L419.5 195.5L420.0 195.5L420.5 195.5L421.0 195.5L421.5 195.5L422.0 195.5L422.5 195.5L423.0 195.5L423.5 195.5L424.0 195.5L424.5 195.5L425.0 195.4L425.5 195.4L426.0 195.4L426.5 195.4L427.0 195.4L427.5 195.4L428.0 195.4L428.5 195.4L429.0 195.4L429.5 195.4L430.0 195.4L430.5 195.4L431.0 195.4L431.5 195.4L432.0 195.4L432.5 195.4L433.0 195.4L433.5 195.4L434.0 195.4L434.5 195.4L435.0 195.4L435.5 195.4L436.0 195.3L436.5 195.3L437.0 195.3L437.5 195.3L438.0 195.3L438.5 195.3L439.0 195.3L439.5 195.3L440.0 195.3L440.5 195.3L441.0 195.3L441.5 195.3L442.0 195.3L442.5 195.3L443.0 195.3L443.5 195.3L444.0 195.3L444.5 195.3L445.0 195.3L445.5 195.3L446.0 195.3L446.5 195.2L447.0 195.2L447.5 195.2L448.0 195.2L448.5 195.2L449.0 195.2L449.5 195.2L450.0 195.2L450.5 195.2L451.0 195.2L451.5 195.2L452.0 195.2L452.5 195.2L453.0 195.2L453.5 195.1L454.0 195.1L454.5 195.1L455.0 195.1L455.5 195.1L456.0 195.1L456.5 195.1L457.0 195.1L457.5 195.1L458.0 195.0L458.5 195.0L459.0 195.0L459.5 195.0L460.0 195.0L460.5 195.0L461.0 195.0L461.5 195.0L462.0 194.9L462.5 194.9L463.0 194.9L463.5 194.9L464.0 194.9L464.5 194.8L465.0 194.8L465.5 194.8L466.0 194.8L466.5 194.8L467.0 194.7L467.5 194.7L468.0 194.7L468.5 194.7L469.0 194.6L469.5 194.6L470.0 194.6L470.5 194.5L471.0 194.5L471.5 194.4L472.0 194.4L472.5 194.3L473.0 194.3L473.5 194.2L474.0 194.2L474.5 194.1L475.0 194.0L475.5 194.0L476.0 193.9L476.5 193.8L477.0 193.7L477.5 193.6L478.0 193.5L478.5 193.4L479.0 193.3L479.5 193.1L480.0 193.0L480.5 192.9L481.0 192.7L481.5 192.5L482.0 192.4L482.5 192.2L483.0 192.0L483.5 191.8L484.0 191.6L484.5 191.5L485.0 191.3L485.5 191.1L486.0 191.0L486.5 190.9L487.0 190.7L487.5 190.6L488.0 190.5L488.5 190.4L489.0 190.2L489.5 190.1L490.0 190.0L490.5 189.9L491.0 189.8L491.5 189.7L492.0 189.6L492.5 189.5L493.0 189.4L493.5 189.3L494.0 189.2L494.5 189.1L495.0 189.0L495.5 189.0L496.0 188.9L496.5 188.8L497.0 188.7L497.5 188.7L498.0 188.6L498.5 188.5L499.0 188.5L499.5 188.4L500.0 188.3L500.5 188.3L501.0 188.2L501.5 188.2L502.0 188.1L502.5 188.0L503.0 188.0L503.5 187.9L504.0 187.9L504.5 187.8L505.0 187.8L505.5 187.7L506.0 187.7L506.5 187.6L507.0 187.6L507.5 187.5L508.0 187.5L508.5 187.4L509.0 187.4L509.5 187.3L510.0 187.3L510.5 187.2L511.0 187.2L511.5 187.1L512.0 187.1L512.5 187.1L513.0 187.0L513.5 187.0L514.0 186.9L514.5 186.9L515.0 186.9L515.5 186.8L516.0 186.8L516.5 186.7L517.0 186.7L517.5 186.6L518.0 186.6L518.5 186.5L519.0 186.5L519.5 186.4L520.0 186.4L520.5 186.3L521.0 186.3L521.5 186.2L522.0 186.2L522.5 186.1L523.0 186.1L523.5 186.0L524.0 185.9L524.5 185.9L525.0 185.8L525.5 185.7L526.0 185.7L526.5 185.6L527.0 185.5L527.5 185.4L528.0 185.4L528.5 185.3L529.0 185.2L529.5 185.1L530.0 185.0L530.5 184.9L531.0 184.8L531.5 184.7L532.0 184.6L532.5 184.5L533.0 184.4L533.5 184.3L534.0 184.2L534.5 184.0L535.0 183.9L535.5 183.8L536.0 183.7L536.5 183.5L537.0 183.4L537.5 183.3L538.0 183.2L538.5 183.0L539.0 182.9L539.5 182.8L540.0 182.6L540.5 182.5L541.0 182.4L541.5 182.3L542.0 182.1L542.5 182.0L543.0 181.9L543.5 181.8L544.0 181.7L544.5 181.6L545.0 181.5L545.5 181.4L546.0 181.3L546.5 181.2L547.0 181.1L547.5 181.1L548.0 181.0L548.5 180.9L549.0 180.9L549.5 180.9L550.0 180.8L550.5 180.8L551.0 180.8L551.5 180.8L552.0 180.7L552.5 180.7L553.0 180.7L553.5 180.8L554.0 180.8L554.5 180.8L555.0 180.8L555.5 180.8L556.0 180.8L556.5 180.8L557.0 180.8L557.5 180.8L558.0 180.9L558.5 180.9L559.0 180.9L559.5 180.9L560.0 181.0L560.5 181.0L561.0 181.0L561.5 181.0L562.0 181.1L562.5 181.1L563.0 181.2L563.5 181.2L564.0 181.2L564.5 181.3L565.0 181.3L565.5 181.4L566.0 181.4L566.5 181.4L567.0 181.5L567.5 181.5L568.0 181.6L568.5 181.6L569.0 181.7L569.5 181.7L570.0 181.8L570.5 181.8L571.0 181.9L571.5 182.0L572.0 182.0L572.5 182.1L573.0 182.1L573.5 182.2L574.0 182.2L574.5 182.3L575.0 182.4L575.5 182.4L576.0 182.5L576.5 182.5L577.0 182.6L577.5 182.7L578.0 182.7L578.5 182.8L579.0 182.8L579.5 182.9L580.0 183.0L580.5 183.0L581.0 183.1L581.5 183.2L582.0 183.2L582.5 183.3L583.0 183.3L583.5 183.4L584.0 183.5L584.5 183.5L585.0 183.6L585.5 183.6L586.0 183.7L586.5 183.8L587.0 183.8L587.5 183.9L588.0 183.9L588.5 184.0L589.0 184.0L589.5 184.1L590.0 184.2L590.5 184.2L591.0 184.3L591.5 184.3L592.0 184.4L592.5 184.4L593.0 184.5L593.5 184.5L594.0 184.6L594.5 184.6L595.0 184.7L595.5 184.7L596.0 184.8L596.5 184.8L597.0 184.9L597.5 184.9L598.0 184.9L598.5 185.0L599.0 185.0L599.5 185.1L600.0 185.1L600.5 185.2L601.0 185.2L601.5 185.2L602.0 185.3L602.5 185.3L603.0 185.3L603.5 185.4L604.0 185.4L604.5 185.4L605.0 185.5L605.5 185.5L606.0 185.5L606.5 185.6L607.0 185.6L607.5 185.6L608.0 185.6L608.5 185.7L609.0 185.7L609.5 185.7L610.0 185.8L610.5 185.8L611.0 185.8L611.5 185.8L612.0 185.8L612.5 185.9L613.0 185.9L613.5 185.9L614.0 185.9L614.5 185.9L615.0 186.0L615.5 186.0L616.0 186.0L616.5 186.0L617.0 186.0L617.5 186.0L618.0 186.1L618.5 186.1L619.0 186.1L619.5 186.1L620.0 186.1L620.5 186.1L621.0 186.1L621.5 186.1L622.0 186.2L622.5 186.2L623.0 186.2L623.5 186.2L624.0 186.2L624.5 186.2L625.0 186.2L625.5 186.2L626.0 186.2L626.5 186.2L627.0 186.2L627.5 186.3L628.0 186.3L628.5 186.3L629.0 186.3L629.5 186.3L630.0 186.3L630.5 186.3L631.0 186.3L631.5 186.3L632.0 186.3L632.5 186.3L633.0 186.3L633.5 186.3L634.0 186.3L634.5 186.3L635.0 186.3L635.5 186.3L636.0 186.3L636.5 186.3L637.0 186.3L637.5 186.3L638.0 186.4L638.5 186.4L639.0 186.4L639.5 186.4L640.0 186.4L640.5 186.4L641.0 186.4L641.5 186.4L642.0 186.4L642.5 186.4L643.0 186.4L643.5 186.4L644.0 186.4L644.5 186.4L645.0 186.4L645.5 186.4L646.0 186.4L646.5 186.4" fill="none" stroke="#8000ff" stroke-width="1.6" stroke-linejoin="round"/>
<path d="M408.5 195.6L409.0 195.6L409.5 195.6L410.0 195.6L410.5 195.5L411.0 195.5L411.5 195.5L412.0 195.5L412.5 195.5L413.0 195.5L413.5 195.5L414.0 195.5L414.5 195.5L415.0 195.5L415.5 195.5L416.0 195.5L416.5 195.5L417.0 195.5L417.5 195.5L418.0 195.5L418.5 195.5L419.0 195.5L419.5 195.5L420.0 195.5L420.5 195.4L421.0 195.4L421.5 195.4L422.0 195.4L422.5 195.4L423.0 195.4L423.5 195.4L424.0 195.4L424.5 195.4L425.0 195.4L425.5 195.4L426.0 195.4L426.5 195.4L427.0 195.4L427.5 195.4L428.0 195.4L428.5 195.4L429.0 195.4L429.5 195.4L430.0 195.3L430.5 195.3L431.0 195.3L431.5 195.3L432.0 195.3L432.5 195.3L433.0 195.3L433.5 195.3L434.0 195.3L434.5 195.3L435.0 195.3L435.5 195.3L436.0 195.3L436.5 195.3L437.0 195.3L437.5 195.3L438.0 195.3L438.5 195.3L439.0 195.3L439.5 195.3L440.0 195.2L440.5 195.2L441.0 195.2L441.5 195.2L442.0 195.2L442.5 195.2L443.0 195.2L443.5 195.2L444.0 195.2L444.5 195.2L445.0 195.2L445.5 195.2L446.0 195.2L446.5 195.2L447.0 195.2L447.5 195.2L448.0 195.1L448.5 195.1L449.0 195.1L449.5 195.1L450.0 195.1L450.5 195.1L451.0 195.1L451.5 195.1L452.0 195.1L452.5 195.1L453.0 195.1L453.5 195.0L454.0 195.0L454.5 195.0L455.0 195.0L455.5 195.0L456.0 195.0L456.5 195.0L457.0 195.0L457.5 194.9L458.0 194.9L458.5 194.9L459.0 194.9L459.5 194.9L460.0 194.9L460.5 194.9L461.0 194.8L461.5 194.8L462.0 194.8L462.5 194.8L463.0 194.8L463.5 194.7L464.0 194.7L464.5 194.7L465.0 194.7L465.5 194.7L466.0 194.6L466.5 194.6L467.0 194.6L467.5 194.6L468.0 194.5L468.5 194.5L469.0 194.5L469.5 194.4L470.0 194.4L470.5 194.4L471.0 194.3L471.5 194.3L472.0 194.2L472.5 194.2L473.0 194.1L473.5 194.0L474.0 194.0L474.5 193.9L475.0 193.8L475.5 193.7L476.0 193.7L476.5 193.6L477.0 193.5L477.5 193.4L478.0 193.3L478.5 193.1L479.0 193.0L479.5 192.9L480.0 192.7L480.5 192.6L481.0 192.4L481.5 192.2L482.0 192.1L482.5 191.9L483.0 191.7L483.5 191.5L484.0 191.3L484.5 191.1L485.0 190.9L485.5 190.8L486.0 190.6L486.5 190.5L487.0 190.3L487.5 190.2L488.0 190.0L488.5 189.9L489.0 189.8L489.5 189.6L490.0 189.5L490.5 189.4L491.0 189.2L491.5 189.1L492.0 189.0L492.5 188.9L493.0 188.8L493.5 188.6L494.0 188.5L494.5 188.4L495.0 188.3L495.5 188.2L496.0 188.1L496.5 188.0L497.0 187.8L497.5 187.7L498.0 187.6L498.5 187.5L499.0 187.3L499.5 187.2L500.0 187.0L500.5 186.9L501.0 186.7L501.5 186.6L502.0 186.4L502.5 186.2L503.0 186.0L503.5 185.8L504.0 185.5L504.5 185.3L505.0 185.0L505.5 184.7L506.0 184.4L506.5 184.1L507.0 183.8L507.5 183.4L508.0 183.0L508.5 182.6L509.0 182.2L509.5 181.8L510.0 181.3L510.5 180.9L511.0 180.4L511.5 180.0L512.0 179.5L512.5 179.0L513.0 178.5L513.5 178.1L514.0 177.7L514.5 177.2L515.0 176.9L515.5 176.5L516.0 176.2L516.5 176.0L517.0 175.8L517.5 175.7L518.0 175.7L518.5 175.7L519.0 175.9L519.5 176.2L520.0 176.5L520.5 177.0L521.0 177.4L521.5 178.0L522.0 178.5L522.5 179.1L523.0 179.6L523.5 180.2L524.0 180.7L524.5 181.2L525.0 181.7L525.5 182.2L526.0 182.6L526.5 183.0L527.0 183.4L527.5 183.7L528.0 184.0L528.5 184.2L529.0 184.5L529.5 184.7L530.0 184.9L530.5 185.0L531.0 185.2L531.5 185.3L532.0 185.4L532.5 185.5L533.0 185.6L533.5 185.6L534.0 185.7L534.5 185.8L535.0 185.8L535.5 185.8L536.0 185.9L536.5 185.9L537.0 185.9L537.5 186.0L538.0 186.0L538.5 186.0L539.0 186.0L539.5 186.1L540.0 186.1L540.5 186.1L541.0 186.1L541.5 186.1L542.0 186.1L542.5 186.2L543.0 186.2L543.5 186.2L544.0 186.2L544.5 186.2L545.0 186.2L545.5 186.2L546.0 186.2L546.5 186.2L547.0 186.3L547.5 186.3L548.0 186.3L548.5 186.3L549.0 186.3L549.5 186.3L550.0 186.3L550.5 186.3L551.0 186.3L551.5 186.3L552.0 186.3L552.5 186.3L553.0 186.3L553.5 186.3L554.0 186.3L554.5 186.3L555.0 186.3L555.5 186.3L556.0 186.3L556.5 186.3L557.0 186.4L557.5 186.4L558.0 186.4L558.5 186.4L559.0 186.4L559.5 186.4L560.0 186.4L560.5 186.4L561.0 186.4L561.5 186.4L562.0 186.4L562.5 186.4L563.0 186.4L563.5 186.4L564.0 186.4L564.5 186.4L565.0 186.4L565.5 186.4L566.0 186.4L566.5 186.4L567.0 186.4L567.5 186.4L568.0 186.4L568.5 186.4L569.0 186.4L569.5 186.4L570.0 186.4L570.5 186.4L571.0 186.4L571.5 186.4L572.0 186.4L572.5 186.4L573.0 186.4L573.5 186.4L574.0 186.4L574.5 186.4L575.0 186.4L575.5 186.4L576.0 186.4L576.5 186.4L577.0 186.4L577.5 186.4L578.0 186.4L578.5 186.4L579.0 186.4L579.5 186.4L580.0 186.4L580.5 186.4L581.0 186.4L581.5 186.4L582.0 186.4L582.5 186.4L583.0 186.4L583.5 186.4L584.0 186.4L584.5 186.4L585.0 186.4L585.5 186.4L586.0 186.4L586.5 186.4L587.0 186.4L587.5 186.4L588.0 186.4L588.5 186.4L589.0 186.4L589.5 186.4L590.0 186.4L590.5 186.4L591.0 186.4L591.5 186.4L592.0 186.4L592.5 186.4L593.0 186.4L593.5 186.4L594.0 186.4L594.5 186.4L595.0 186.4L595.5 186.4L596.0 186.4L596.5 186.4L597.0 186.4L597.5 186.4L598.0 186.4L598.5 186.4L599.0 186.4L599.5 186.4L600.0 186.4L600.5 186.4L601.0 186.4L601.5 186.4L602.0 186.4L602.5 186.4L603.0 186.4L603.5 186.4L604.0 186.4L604.5 186.4L605.0 186.4L605.5 186.4L606.0 186.4L606.5 186.4L607.0 186.4L607.5 186.4L608.0 186.4L608.5 186.4L609.0 186.4L609.5 186.4L610.0 186.4L610.5 186.4L611.0 186.4L611.5 186.4L612.0 186.4L612.5 186.4L613.0 186.4L613.5 186.4L614.0 186.4L614.5 186.4L615.0 186.4L615.5 186.4L616.0 186.4L616.5 186.4L617.0 186.4L617.5 186.4L618.0 186.4L618.5 186.4L619.0 186.4L619.5 186.4L620.0 186.4L620.5 186.4L621.0 186.4L621.5 186.4L622.0 186.4L622.5 186.4L623.0 186.4L623.5 186.4L624.0 186.4L624.5 186.4L625.0 186.4L625.5 186.4L626.0 186.4L626.5 186.4L627.0 186.4L627.5 186.4L628.0 186.4L628.5 186.4L629.0 186.4L629.5 186.4L630.0 186.4L630.5 186.4L631.0 186.4L631.5 186.4L632.0 186.4L632.5 186.4L633.0 186.4L633.5 186.4L634.0 186.4L634.5 186.4L635.0 186.4L635.5 186.4L636.0 186.4L636.5 186.4L637.0 186.4L637.5 186.4L638.0 186.4L638.5 186.4L639.0 186.4L639.5 186.4L640.0 186.4L640.5 186.4L641.0 186.4L641.5 186.4L642.0 186.4L642.5 186.4L643.0 186.4L643.5 186.4L644.0 186.4L644.5 186.4L645.0 186.4L645.5 186.4L646.0 186.4L646.5 186.4" fill="none" stroke="#800080" stroke-width="1.6" stroke-linejoin="round"/>
<text x="2.5" y="303.4" style="font-family:'Liberation Sans',sans-serif;font-weight:bold;font-size:36px">c</text>
<rect x="34.3" y="287.2" width="277.70" height="206.70" fill="none" stroke="#050505" stroke-width="1.75"/>
<line x1="34.50" y1="493.9" x2="34.50" y2="498.59999999999997" stroke="#000" stroke-width="1.5"/>
<text transform="translate(34.50,511.7) scale(1.0,1.1)" text-anchor="middle" style="font-family:'Liberation Sans',sans-serif;font-weight:bold;font-size:13px">524</text>
<line x1="49.92" y1="493.9" x2="49.92" y2="496.9" stroke="#000" stroke-width="1.5"/>
<line x1="65.34" y1="493.9" x2="65.34" y2="498.59999999999997" stroke="#000" stroke-width="1.5"/>
<text transform="translate(65.34,511.7) scale(1.0,1.1)" text-anchor="middle" style="font-family:'Liberation Sans',sans-serif;font-weight:bold;font-size:13px">526</text>
<line x1="80.76" y1="493.9" x2="80.76" y2="496.9" stroke="#000" stroke-width="1.5"/>
<line x1="96.18" y1="493.9" x2="96.18" y2="498.59999999999997" stroke="#000" stroke-width="1.5"/>
<text transform="translate(96.18,511.7) scale(1.0,1.1)" text-anchor="middle" style="font-family:'Liberation Sans',sans-serif;font-weight:bold;font-size:13px">528</text>
<line x1="111.60" y1="493.9" x2="111.60" y2="496.9" stroke="#000" stroke-width="1.5"/>
<line x1="127.02" y1="493.9" x2="127.02" y2="498.59999999999997" stroke="#000" stroke-width="1.5"/>
<text transform="translate(127.02,511.7) scale(1.0,1.1)" text-anchor="middle" style="font-family:'Liberation Sans',sans-serif;font-weight:bold;font-size:13px">530</text>
<line x1="142.44" y1="493.9" x2="142.44" y2="496.9" stroke="#000" stroke-width="1.5"/>
<line x1="157.86" y1="493.9" x2="157.86" y2="498.59999999999997" stroke="#000" stroke-width="1.5"/>
<text transform="translate(157.86,511.7) scale(1.0,1.1)" text-anchor="middle" style="font-family:'Liberation Sans',sans-serif;font-weight:bold;font-size:13px">532</text>
<line x1="173.28" y1="493.9" x2="173.28" y2="496.9" stroke="#000" stroke-width="1.5"/>
<line x1="188.70" y1="493.9" x2="188.70" y2="498.59999999999997" stroke="#000" stroke-width="1.5"/>
<text transform="translate(188.70,511.7) scale(1.0,1.1)" text-anchor="middle" style="font-family:'Liberation Sans',sans-serif;font-weight:bold;font-size:13px">534</text>
<line x1="204.12" y1="493.9" x2="204.12" y2="496.9" stroke="#000" stroke-width="1.5"/>
<line x1="219.54" y1="493.9" x2="219.54" y2="498.59999999999997" stroke="#000" stroke-width="1.5"/>
<text transform="translate(219.54,511.7) scale(1.0,1.1)" text-anchor="middle" style="font-family:'Liberation Sans',sans-serif;font-weight:bold;font-size:13px">536</text>
<line x1="234.96" y1="493.9" x2="234.96" y2="496.9" stroke="#000" stroke-width="1.5"/>
<line x1="250.38" y1="493.9" x2="250.38" y2="498.59999999999997" stroke="#000" stroke-width="1.5"/>
<text transform="translate(250.38,511.7) scale(1.0,1.1)" text-anchor="middle" style="font-family:'Liberation Sans',sans-serif;font-weight:bold;font-size:13px">538</text>
<line x1="265.80" y1="493.9" x2="265.80" y2="496.9" stroke="#000" stroke-width="1.5"/>
<line x1="281.22" y1="493.9" x2="281.22" y2="498.59999999999997" stroke="#000" stroke-width="1.5"/>
<text transform="translate(281.22,511.7) scale(1.0,1.1)" text-anchor="middle" style="font-family:'Liberation Sans',sans-serif;font-weight:bold;font-size:13px">540</text>
<line x1="296.64" y1="493.9" x2="296.64" y2="496.9" stroke="#000" stroke-width="1.5"/>
<line x1="312.06" y1="493.9" x2="312.06" y2="498.59999999999997" stroke="#000" stroke-width="1.5"/>
<text transform="translate(312.06,511.7) scale(1.0,1.1)" text-anchor="middle" style="font-family:'Liberation Sans',sans-serif;font-weight:bold;font-size:13px">542</text>
<text x="173.2" y="534" text-anchor="middle" style="font-family:'Liberation Sans',sans-serif;font-weight:bold;font-size:13.65px">Binding Energy (eV)</text>
<text transform="translate(13.6,399.7) rotate(-90)" text-anchor="middle" style="font-family:'Liberation Sans',sans-serif;font-weight:bold;font-size:13.4px">Counts / s</text>
<text transform="translate(204.4,344.3) scale(1.015,1.075)" style="font-family:'Liberation Serif',serif;font-weight:bold;font-size:26px">O1s</text>
<path d="M57.0 464.0L57.5 464.0L58.0 464.0L58.5 464.0L59.0 464.0L59.5 463.9L60.0 463.9L60.5 463.9L61.0 463.9L61.5 463.9L62.0 463.8L62.5 463.8L63.0 463.8L63.5 463.8L64.0 463.8L64.5 463.7L65.0 463.7L65.5 463.7L66.0 463.7L66.5 463.6L67.0 463.6L67.5 463.6L68.0 463.6L68.5 463.5L69.0 463.5L69.5 463.5L70.0 463.5L70.5 463.4L71.0 463.4L71.5 463.4L72.0 463.4L72.5 463.3L73.0 463.3L73.5 463.3L74.0 463.3L74.5 463.2L75.0 463.2L75.5 463.2L76.0 463.2L76.5 463.1L77.0 463.1L77.5 463.1L78.0 463.0L78.5 463.0L79.0 463.0L79.5 463.0L80.0 462.9L80.5 462.9L81.0 462.9L81.5 462.8L82.0 462.8L82.5 462.8L83.0 462.7L83.5 462.7L84.0 462.7L84.5 462.6L85.0 462.6L85.5 462.6L86.0 462.5L86.5 462.5L87.0 462.5L87.5 462.4L88.0 462.4L88.5 462.4L89.0 462.3L89.5 462.3L90.0 462.3L90.5 462.2L91.0 462.2L91.5 462.2L92.0 462.1L92.5 462.1L93.0 462.0L93.5 462.0L94.0 462.0L94.5 461.9L95.0 461.9L95.5 461.8L96.0 461.8L96.5 461.8L97.0 461.7L97.5 461.7L98.0 461.6L98.5 461.6L99.0 461.6L99.5 461.5L100.0 461.5L100.5 461.4L101.0 461.4L101.5 461.3L102.0 461.3L102.5 461.2L103.0 461.2L103.5 461.2L104.0 461.1L104.5 461.1L105.0 461.0L105.5 461.0L106.0 460.9L106.5 460.9L107.0 460.8L107.5 460.8L108.0 460.7L108.5 460.6L109.0 460.6L109.5 460.5L110.0 460.5L110.5 460.4L111.0 460.4L111.5 460.3L112.0 460.2L112.5 460.2L113.0 460.1L113.5 460.0L114.0 460.0L114.5 459.9L115.0 459.8L115.5 459.8L116.0 459.7L116.5 459.6L117.0 459.5L117.5 459.5L118.0 459.4L118.5 459.3L119.0 459.2L119.5 459.1L120.0 459.1L120.5 459.0L121.0 458.9L121.5 458.8L122.0 458.7L122.5 458.6L123.0 458.5L123.5 458.4L124.0 458.3L124.5 458.2L125.0 458.1L125.5 457.9L126.0 457.8L126.5 457.7L127.0 457.6L127.5 457.4L128.0 457.3L128.5 457.2L129.0 457.0L129.5 456.9L130.0 456.8L130.5 456.6L131.0 456.5L131.5 456.3L132.0 456.2L132.5 456.0L133.0 455.8L133.5 455.7L134.0 455.5L134.5 455.3L135.0 455.1L135.5 454.9L136.0 454.7L136.5 454.5L137.0 454.3L137.5 454.1L138.0 453.9L138.5 453.7L139.0 453.4L139.5 453.2L140.0 452.9L140.5 452.7L141.0 452.4L141.5 452.1L142.0 451.8L142.5 451.5L143.0 451.2L143.5 450.9L144.0 450.6L144.5 450.3L145.0 449.9L145.5 449.6L146.0 449.2L146.5 448.8L147.0 448.4L147.5 448.0L148.0 447.5L148.5 447.1L149.0 446.6L149.5 446.1L150.0 445.5L150.5 445.0L151.0 444.4L151.5 443.8L152.0 443.2L152.5 442.5L153.0 441.8L153.5 441.1L154.0 440.3L154.5 439.5L155.0 438.7L155.5 437.8L156.0 436.9L156.5 435.9L157.0 434.8L157.5 433.7L158.0 432.6L158.5 431.4L159.0 430.1L159.5 428.7L160.0 427.3L160.5 425.8L161.0 424.2L161.5 422.5L162.0 420.8L162.5 418.9L163.0 417.0L163.5 415.0L164.0 413.0L164.5 410.8L165.0 408.5L165.5 406.2L166.0 403.8L166.5 401.2L167.0 398.6L167.5 395.9L168.0 393.2L168.5 390.3L169.0 387.4L169.5 384.5L170.0 381.4L170.5 378.4L171.0 375.3L171.5 372.2L172.0 369.2L172.5 366.1L173.0 363.1L173.5 360.2L174.0 357.4L174.5 354.8L175.0 352.2L175.5 349.9L176.0 347.8L176.5 346.0L177.0 344.4L177.5 343.2L178.0 342.2L178.5 341.6L179.0 341.4L179.5 341.4L180.0 341.8L180.5 342.4L181.0 343.3L181.5 344.5L182.0 345.9L182.5 347.6L183.0 349.4L183.5 351.4L184.0 353.6L184.5 355.9L185.0 358.3L185.5 360.8L186.0 363.4L186.5 366.1L187.0 368.8L187.5 371.5L188.0 374.2L188.5 376.9L189.0 379.6L189.5 382.3L190.0 384.9L190.5 387.5L191.0 390.0L191.5 392.4L192.0 394.9L192.5 397.2L193.0 399.5L193.5 401.7L194.0 403.8L194.5 405.9L195.0 407.8L195.5 409.8L196.0 411.6L196.5 413.3L197.0 415.0L197.5 416.6L198.0 418.2L198.5 419.7L199.0 421.1L199.5 422.4L200.0 423.7L200.5 424.9L201.0 426.0L201.5 427.1L202.0 428.2L202.5 429.1L203.0 430.1L203.5 431.0L204.0 431.8L204.5 432.6L205.0 433.3L205.5 434.0L206.0 434.7L206.5 435.3L207.0 435.9L207.5 436.5L208.0 437.0L208.5 437.5L209.0 438.0L209.5 438.4L210.0 438.8L210.5 439.2L211.0 439.6L211.5 440.0L212.0 440.3L212.5 440.6L213.0 440.9L213.5 441.2L214.0 441.5L214.5 441.8L215.0 442.0L215.5 442.2L216.0 442.5L216.5 442.7L217.0 442.9L217.5 443.1L218.0 443.3L218.5 443.5L219.0 443.6L219.5 443.8L220.0 444.0L220.5 444.1L221.0 444.3L221.5 444.4L222.0 444.6L222.5 444.7L223.0 444.9L223.5 445.0L224.0 445.1L224.5 445.2L225.0 445.3L225.5 445.4L226.0 445.5L226.5 445.7L227.0 445.8L227.5 445.8L228.0 445.9L228.5 446.0L229.0 446.1L229.5 446.2L230.0 446.3L230.5 446.4L231.0 446.4L231.5 446.5L232.0 446.6L232.5 446.7L233.0 446.7L233.5 446.8L234.0 446.9L234.5 446.9L235.0 447.0L235.5 447.0L236.0 447.1L236.5 447.2L237.0 447.2L237.5 447.3L238.0 447.3L238.5 447.4L239.0 447.4L239.5 447.5L240.0 447.5L240.5 447.6L241.0 447.6L241.5 447.6L242.0 447.7L242.5 447.7L243.0 447.8L243.5 447.8L244.0 447.8L244.5 447.9L245.0 447.9L245.5 447.9L246.0 448.0L246.5 448.0L247.0 448.0L247.5 448.1L248.0 448.1L248.5 448.1L249.0 448.2L249.5 448.2L250.0 448.2L250.5 448.2L251.0 448.3L251.5 448.3L252.0 448.3L252.5 448.3L253.0 448.4L253.5 448.4L254.0 448.4L254.5 448.4L255.0 448.5L255.5 448.5L256.0 448.5L256.5 448.5L257.0 448.5L257.5 448.6L258.0 448.6L258.5 448.6L259.0 448.6L259.5 448.6L260.0 448.6L260.5 448.7L261.0 448.7L261.5 448.7L262.0 448.7L262.5 448.7L263.0 448.7L263.5 448.8L264.0 448.8L264.5 448.8L265.0 448.8L265.5 448.8L266.0 448.8L266.5 448.8L267.0 448.9L267.5 448.9L268.0 448.9L268.5 448.9L269.0 448.9L269.5 448.9L270.0 448.9L270.5 449.0L271.0 449.0L271.5 449.0L272.0 449.0L272.5 449.0L273.0 449.0L273.5 449.0L274.0 449.0L274.5 449.0L275.0 449.1L275.5 449.1L276.0 449.1L276.5 449.1L277.0 449.1L277.5 449.1L278.0 449.1L278.5 449.1L279.0 449.1L279.5 449.2L280.0 449.2L280.5 449.2L281.0 449.2L281.5 449.2L282.0 449.2L282.5 449.2L283.0 449.2L283.5 449.2L284.0 449.3L284.5 449.3L285.0 449.3L285.5 449.3L286.0 449.3L286.5 449.3L287.0 449.3L287.5 449.3L288.0 449.3L288.5 449.3L289.0 449.4L289.5 449.4" fill="none" stroke="#008000" stroke-width="1.6" stroke-linejoin="round"/>
<path d="M57.0 464.2L57.5 464.2L58.0 464.2L58.5 464.2L59.0 464.1L59.5 464.1L60.0 464.1L60.5 464.1L61.0 464.1L61.5 464.0L62.0 464.0L62.5 464.0L63.0 464.0L63.5 464.0L64.0 463.9L64.5 463.9L65.0 463.9L65.5 463.9L66.0 463.8L66.5 463.8L67.0 463.8L67.5 463.8L68.0 463.8L68.5 463.7L69.0 463.7L69.5 463.7L70.0 463.7L70.5 463.6L71.0 463.6L71.5 463.6L72.0 463.6L72.5 463.5L73.0 463.5L73.5 463.5L74.0 463.5L74.5 463.4L75.0 463.4L75.5 463.4L76.0 463.3L76.5 463.3L77.0 463.3L77.5 463.3L78.0 463.2L78.5 463.2L79.0 463.2L79.5 463.1L80.0 463.1L80.5 463.1L81.0 463.1L81.5 463.0L82.0 463.0L82.5 463.0L83.0 462.9L83.5 462.9L84.0 462.9L84.5 462.8L85.0 462.8L85.5 462.8L86.0 462.7L86.5 462.7L87.0 462.7L87.5 462.6L88.0 462.6L88.5 462.5L89.0 462.5L89.5 462.5L90.0 462.4L90.5 462.4L91.0 462.4L91.5 462.3L92.0 462.3L92.5 462.2L93.0 462.2L93.5 462.2L94.0 462.1L94.5 462.1L95.0 462.0L95.5 462.0L96.0 462.0L96.5 461.9L97.0 461.9L97.5 461.8L98.0 461.8L98.5 461.7L99.0 461.7L99.5 461.6L100.0 461.6L100.5 461.5L101.0 461.5L101.5 461.4L102.0 461.4L102.5 461.3L103.0 461.3L103.5 461.2L104.0 461.2L104.5 461.1L105.0 461.1L105.5 461.0L106.0 461.0L106.5 460.9L107.0 460.8L107.5 460.8L108.0 460.7L108.5 460.7L109.0 460.6L109.5 460.5L110.0 460.5L110.5 460.4L111.0 460.3L111.5 460.2L112.0 460.2L112.5 460.1L113.0 460.0L113.5 459.9L114.0 459.8L114.5 459.8L115.0 459.7L115.5 459.6L116.0 459.5L116.5 459.4L117.0 459.3L117.5 459.2L118.0 459.1L118.5 459.0L119.0 458.9L119.5 458.8L120.0 458.7L120.5 458.5L121.0 458.4L121.5 458.3L122.0 458.2L122.5 458.0L123.0 457.9L123.5 457.7L124.0 457.6L124.5 457.4L125.0 457.3L125.5 457.1L126.0 456.9L126.5 456.8L127.0 456.6L127.5 456.4L128.0 456.2L128.5 456.0L129.0 455.8L129.5 455.5L130.0 455.3L130.5 455.1L131.0 454.8L131.5 454.6L132.0 454.3L132.5 454.0L133.0 453.7L133.5 453.4L134.0 453.1L134.5 452.7L135.0 452.3L135.5 451.9L136.0 451.5L136.5 451.1L137.0 450.6L137.5 450.1L138.0 449.6L138.5 449.0L139.0 448.4L139.5 447.7L140.0 447.0L140.5 446.3L141.0 445.5L141.5 444.6L142.0 443.6L142.5 442.6L143.0 441.6L143.5 440.4L144.0 439.2L144.5 437.8L145.0 436.4L145.5 434.9L146.0 433.3L146.5 431.5L147.0 429.7L147.5 427.7L148.0 425.6L148.5 423.3L149.0 421.0L149.5 418.5L150.0 415.9L150.5 413.2L151.0 410.3L151.5 407.3L152.0 404.2L152.5 401.1L153.0 397.8L153.5 394.4L154.0 390.9L154.5 387.4L155.0 383.9L155.5 380.4L156.0 376.9L156.5 373.4L157.0 370.1L157.5 366.9L158.0 363.8L158.5 361.0L159.0 358.5L159.5 356.4L160.0 354.5L160.5 353.2L161.0 352.2L161.5 351.7L162.0 351.7L162.5 352.1L163.0 352.8L163.5 353.9L164.0 355.4L164.5 357.1L165.0 359.1L165.5 361.4L166.0 363.9L166.5 366.5L167.0 369.3L167.5 372.2L168.0 375.2L168.5 378.2L169.0 381.2L169.5 384.3L170.0 387.3L170.5 390.3L171.0 393.2L171.5 396.1L172.0 398.9L172.5 401.6L173.0 404.3L173.5 406.8L174.0 409.3L174.5 411.6L175.0 413.9L175.5 416.0L176.0 418.0L176.5 420.0L177.0 421.8L177.5 423.6L178.0 425.2L178.5 426.8L179.0 428.2L179.5 429.6L180.0 430.9L180.5 432.1L181.0 433.2L181.5 434.3L182.0 435.3L182.5 436.2L183.0 437.0L183.5 437.8L184.0 438.6L184.5 439.2L185.0 439.9L185.5 440.5L186.0 441.0L186.5 441.5L187.0 442.0L187.5 442.4L188.0 442.8L188.5 443.2L189.0 443.6L189.5 443.9L190.0 444.2L190.5 444.5L191.0 444.7L191.5 445.0L192.0 445.2L192.5 445.4L193.0 445.6L193.5 445.8L194.0 446.0L194.5 446.2L195.0 446.3L195.5 446.5L196.0 446.6L196.5 446.8L197.0 446.9L197.5 447.0L198.0 447.1L198.5 447.2L199.0 447.3L199.5 447.4L200.0 447.5L200.5 447.6L201.0 447.7L201.5 447.8L202.0 447.9L202.5 447.9L203.0 448.0L203.5 448.1L204.0 448.1L204.5 448.2L205.0 448.3L205.5 448.3L206.0 448.4L206.5 448.4L207.0 448.5L207.5 448.5L208.0 448.6L208.5 448.6L209.0 448.7L209.5 448.7L210.0 448.7L210.5 448.8L211.0 448.8L211.5 448.8L212.0 448.9L212.5 448.9L213.0 448.9L213.5 449.0L214.0 449.0L214.5 449.0L215.0 449.1L215.5 449.1L216.0 449.1L216.5 449.1L217.0 449.2L217.5 449.2L218.0 449.2L218.5 449.2L219.0 449.3L219.5 449.3L220.0 449.3L220.5 449.3L221.0 449.4L221.5 449.4L222.0 449.4L222.5 449.4L223.0 449.5L223.5 449.5L224.0 449.5L224.5 449.5L225.0 449.5L225.5 449.5L226.0 449.6L226.5 449.6L227.0 449.6L227.5 449.6L228.0 449.6L228.5 449.6L229.0 449.6L229.5 449.7L230.0 449.7L230.5 449.7L231.0 449.7L231.5 449.7L232.0 449.7L232.5 449.7L233.0 449.7L233.5 449.7L234.0 449.7L234.5 449.8L235.0 449.8L235.5 449.8L236.0 449.8L236.5 449.8L237.0 449.8L237.5 449.8L238.0 449.8L238.5 449.8L239.0 449.8L239.5 449.8L240.0 449.8L240.5 449.8L241.0 449.8L241.5 449.8L242.0 449.8L242.5 449.8L243.0 449.9L243.5 449.9L244.0 449.9L244.5 449.9L245.0 449.9L245.5 449.9L246.0 449.9L246.5 449.9L247.0 449.9L247.5 449.9L248.0 449.9L248.5 449.9L249.0 449.9L249.5 449.9L250.0 449.9L250.5 449.9L251.0 449.9L251.5 449.9L252.0 449.9L252.5 449.9L253.0 449.9L253.5 449.9L254.0 449.9L254.5 449.9L255.0 449.9L255.5 449.9L256.0 449.9L256.5 449.9L257.0 449.9L257.5 449.9L258.0 449.9L258.5 449.9L259.0 449.9L259.5 449.9L260.0 449.9L260.5 449.9L261.0 449.9L261.5 449.9L262.0 449.9L262.5 449.9L263.0 449.9L263.5 449.9L264.0 449.9L264.5 449.9L265.0 449.9L265.5 449.9L266.0 449.9L266.5 449.9L267.0 449.9L267.5 449.9L268.0 449.9L268.5 449.9L269.0 449.9L269.5 449.9L270.0 449.9L270.5 449.9L271.0 449.9L271.5 449.9L272.0 449.9L272.5 449.9L273.0 449.9L273.5 449.9L274.0 449.9L274.5 449.9L275.0 449.9L275.5 449.9L276.0 449.9L276.5 449.9L277.0 449.9L277.5 449.9L278.0 449.9L278.5 449.9L279.0 449.9L279.5 449.9L280.0 450.0L280.5 450.0L281.0 450.0L281.5 450.0L282.0 450.0L282.5 450.0L283.0 450.0L283.5 450.0L284.0 450.0L284.5 450.0L285.0 450.0L285.5 450.0L286.0 450.0L286.5 450.0L287.0 450.0L287.5 450.0L288.0 450.0L288.5 450.0L289.0 450.0L289.5 450.0" fill="none" stroke="#f414f4" stroke-width="1.6" stroke-linejoin="round"/>
<path d="M57.0 464.7L57.5 464.6L58.0 464.6L58.5 464.6L59.0 464.6L59.5 464.6L60.0 464.6L60.5 464.6L61.0 464.5L61.5 464.5L62.0 464.5L62.5 464.5L63.0 464.5L63.5 464.5L64.0 464.4L64.5 464.4L65.0 464.4L65.5 464.4L66.0 464.4L66.5 464.4L67.0 464.3L67.5 464.3L68.0 464.3L68.5 464.3L69.0 464.3L69.5 464.2L70.0 464.2L70.5 464.2L71.0 464.2L71.5 464.2L72.0 464.1L72.5 464.1L73.0 464.1L73.5 464.1L74.0 464.1L74.5 464.0L75.0 464.0L75.5 464.0L76.0 464.0L76.5 464.0L77.0 463.9L77.5 463.9L78.0 463.9L78.5 463.9L79.0 463.9L79.5 463.8L80.0 463.8L80.5 463.8L81.0 463.8L81.5 463.7L82.0 463.7L82.5 463.7L83.0 463.7L83.5 463.6L84.0 463.6L84.5 463.6L85.0 463.6L85.5 463.6L86.0 463.5L86.5 463.5L87.0 463.5L87.5 463.5L88.0 463.4L88.5 463.4L89.0 463.4L89.5 463.3L90.0 463.3L90.5 463.3L91.0 463.3L91.5 463.2L92.0 463.2L92.5 463.2L93.0 463.2L93.5 463.1L94.0 463.1L94.5 463.1L95.0 463.0L95.5 463.0L96.0 463.0L96.5 463.0L97.0 462.9L97.5 462.9L98.0 462.9L98.5 462.8L99.0 462.8L99.5 462.8L100.0 462.7L100.5 462.7L101.0 462.7L101.5 462.6L102.0 462.6L102.5 462.6L103.0 462.5L103.5 462.5L104.0 462.5L104.5 462.4L105.0 462.4L105.5 462.4L106.0 462.3L106.5 462.3L107.0 462.2L107.5 462.2L108.0 462.2L108.5 462.1L109.0 462.1L109.5 462.0L110.0 462.0L110.5 461.9L111.0 461.9L111.5 461.8L112.0 461.8L112.5 461.7L113.0 461.7L113.5 461.6L114.0 461.5L114.5 461.5L115.0 461.4L115.5 461.4L116.0 461.3L116.5 461.2L117.0 461.1L117.5 461.1L118.0 461.0L118.5 460.9L119.0 460.8L119.5 460.7L120.0 460.6L120.5 460.5L121.0 460.4L121.5 460.2L122.0 460.1L122.5 459.9L123.0 459.8L123.5 459.6L124.0 459.4L124.5 459.2L125.0 458.9L125.5 458.7L126.0 458.4L126.5 458.1L127.0 457.7L127.5 457.4L128.0 457.0L128.5 456.5L129.0 456.1L129.5 455.6L130.0 455.0L130.5 454.4L131.0 453.8L131.5 453.1L132.0 452.3L132.5 451.5L133.0 450.7L133.5 449.8L134.0 448.9L134.5 447.9L135.0 446.8L135.5 445.8L136.0 444.6L136.5 443.4L137.0 442.2L137.5 441.0L138.0 439.7L138.5 438.4L139.0 437.1L139.5 435.8L140.0 434.5L140.5 433.2L141.0 431.9L141.5 430.7L142.0 429.6L142.5 428.5L143.0 427.4L143.5 426.5L144.0 425.7L144.5 425.0L145.0 424.5L145.5 424.1L146.0 423.8L146.5 423.8L147.0 423.9L147.5 424.3L148.0 425.0L148.5 425.9L149.0 427.0L149.5 428.2L150.0 429.5L150.5 430.9L151.0 432.4L151.5 433.9L152.0 435.4L152.5 436.9L153.0 438.4L153.5 439.8L154.0 441.2L154.5 442.5L155.0 443.7L155.5 444.8L156.0 445.9L156.5 446.8L157.0 447.7L157.5 448.5L158.0 449.2L158.5 449.8L159.0 450.4L159.5 450.9L160.0 451.3L160.5 451.6L161.0 451.9L161.5 452.2L162.0 452.4L162.5 452.6L163.0 452.8L163.5 452.9L164.0 453.0L164.5 453.1L165.0 453.2L165.5 453.3L166.0 453.3L166.5 453.4L167.0 453.4L167.5 453.4L168.0 453.5L168.5 453.5L169.0 453.5L169.5 453.5L170.0 453.5L170.5 453.5L171.0 453.5L171.5 453.5L172.0 453.6L172.5 453.6L173.0 453.6L173.5 453.6L174.0 453.6L174.5 453.6L175.0 453.5L175.5 453.5L176.0 453.5L176.5 453.5L177.0 453.5L177.5 453.5L178.0 453.5L178.5 453.5L179.0 453.5L179.5 453.5L180.0 453.5L180.5 453.4L181.0 453.4L181.5 453.4L182.0 453.4L182.5 453.4L183.0 453.3L183.5 453.3L184.0 453.3L184.5 453.3L185.0 453.3L185.5 453.2L186.0 453.2L186.5 453.2L187.0 453.2L187.5 453.1L188.0 453.1L188.5 453.1L189.0 453.0L189.5 453.0L190.0 453.0L190.5 453.0L191.0 452.9L191.5 452.9L192.0 452.9L192.5 452.9L193.0 452.8L193.5 452.8L194.0 452.8L194.5 452.7L195.0 452.7L195.5 452.7L196.0 452.6L196.5 452.6L197.0 452.6L197.5 452.6L198.0 452.5L198.5 452.5L199.0 452.5L199.5 452.4L200.0 452.4L200.5 452.4L201.0 452.4L201.5 452.3L202.0 452.3L202.5 452.3L203.0 452.2L203.5 452.2L204.0 452.2L204.5 452.2L205.0 452.1L205.5 452.1L206.0 452.1L206.5 452.1L207.0 452.0L207.5 452.0L208.0 452.0L208.5 451.9L209.0 451.9L209.5 451.9L210.0 451.9L210.5 451.9L211.0 451.8L211.5 451.8L212.0 451.8L212.5 451.8L213.0 451.7L213.5 451.7L214.0 451.7L214.5 451.7L215.0 451.7L215.5 451.6L216.0 451.6L216.5 451.6L217.0 451.6L217.5 451.6L218.0 451.6L218.5 451.5L219.0 451.5L219.5 451.5L220.0 451.5L220.5 451.5L221.0 451.5L221.5 451.5L222.0 451.5L222.5 451.4L223.0 451.4L223.5 451.4L224.0 451.4L224.5 451.4L225.0 451.4L225.5 451.4L226.0 451.4L226.5 451.3L227.0 451.3L227.5 451.3L228.0 451.3L228.5 451.3L229.0 451.3L229.5 451.3L230.0 451.3L230.5 451.3L231.0 451.2L231.5 451.2L232.0 451.2L232.5 451.2L233.0 451.2L233.5 451.2L234.0 451.2L234.5 451.2L235.0 451.2L235.5 451.1L236.0 451.1L236.5 451.1L237.0 451.1L237.5 451.1L238.0 451.1L238.5 451.1L239.0 451.1L239.5 451.1L240.0 451.0L240.5 451.0L241.0 451.0L241.5 451.0L242.0 451.0L242.5 451.0L243.0 451.0L243.5 451.0L244.0 451.0L244.5 451.0L245.0 450.9L245.5 450.9L246.0 450.9L246.5 450.9L247.0 450.9L247.5 450.9L248.0 450.9L248.5 450.9L249.0 450.9L249.5 450.9L250.0 450.9L250.5 450.8L251.0 450.8L251.5 450.8L252.0 450.8L252.5 450.8L253.0 450.8L253.5 450.8L254.0 450.8L254.5 450.8L255.0 450.8L255.5 450.8L256.0 450.7L256.5 450.7L257.0 450.7L257.5 450.7L258.0 450.7L258.5 450.7L259.0 450.7L259.5 450.7L260.0 450.7L260.5 450.7L261.0 450.7L261.5 450.7L262.0 450.7L262.5 450.7L263.0 450.6L263.5 450.6L264.0 450.6L264.5 450.6L265.0 450.6L265.5 450.6L266.0 450.6L266.5 450.6L267.0 450.6L267.5 450.6L268.0 450.6L268.5 450.6L269.0 450.6L269.5 450.6L270.0 450.6L270.5 450.6L271.0 450.6L271.5 450.5L272.0 450.5L272.5 450.5L273.0 450.5L273.5 450.5L274.0 450.5L274.5 450.5L275.0 450.5L275.5 450.5L276.0 450.5L276.5 450.5L277.0 450.5L277.5 450.5L278.0 450.5L278.5 450.5L279.0 450.5L279.5 450.5L280.0 450.5L280.5 450.5L281.0 450.5L281.5 450.5L282.0 450.5L282.5 450.5L283.0 450.5L283.5 450.5L284.0 450.5L284.5 450.5L285.0 450.5L285.5 450.5L286.0 450.5L286.5 450.5L287.0 450.5L287.5 450.5L288.0 450.5L288.5 450.5L289.0 450.5L289.5 450.5" fill="none" stroke="#1414ec" stroke-width="1.6" stroke-linejoin="round"/>
<path d="M57.0 464.5C57.3 463.9 58.0 462.0 58.8 461.0C59.6 460.0 60.7 458.7 61.7 458.7C62.7 458.7 63.6 460.0 64.6 461.0C65.6 462.0 66.3 463.6 67.5 464.5C68.7 465.4 70.3 466.7 71.6 466.6C72.9 466.5 73.8 464.7 75.1 463.9C76.4 463.1 77.7 461.9 79.2 461.6C80.7 461.3 82.4 462.5 83.9 462.2C85.5 461.9 87.0 459.9 88.5 459.9C90.0 459.9 91.5 461.9 93.2 462.2C95.0 462.5 97.2 461.7 99.0 461.6C100.8 461.5 102.1 461.9 103.7 461.6C105.3 461.3 107.1 460.6 108.4 459.9C109.7 459.2 110.3 457.3 111.3 457.5C112.3 457.7 113.0 460.7 114.2 461.0C115.4 461.3 117.1 460.5 118.3 459.3C119.5 458.1 120.1 456.2 121.2 454.0C122.3 451.8 123.7 447.4 124.7 445.8C125.7 444.2 126.2 444.7 127.1 444.1C128.0 443.5 129.1 443.5 130.0 442.3C130.9 441.1 131.5 439.8 132.5 437.0C133.5 434.2 134.7 429.8 135.8 425.5C136.9 421.2 138.1 415.9 139.3 411.5C140.5 407.1 141.7 404.2 142.9 399.3C144.1 394.4 145.0 389.0 146.4 381.8C147.8 374.6 150.0 364.5 151.6 356.0C153.2 347.5 154.6 338.5 155.8 331.0C157.1 323.5 158.1 315.6 159.1 311.0C160.1 306.4 160.9 305.1 161.6 303.5C162.3 301.9 162.7 301.7 163.3 301.6C164.0 301.5 164.7 302.2 165.5 303.0C166.3 303.8 167.5 306.3 168.3 306.6C169.1 306.9 169.8 305.3 170.5 305.0C171.2 304.7 171.5 304.3 172.4 304.6C173.3 304.9 174.7 304.9 175.7 306.6C176.7 308.3 177.6 312.4 178.2 314.9C178.8 317.4 179.0 320.4 179.5 321.6C180.0 322.8 180.5 320.9 181.2 322.0C181.9 323.1 182.9 326.0 183.5 328.0C184.1 330.0 184.5 331.2 185.0 334.0C185.5 336.8 186.0 340.5 186.5 344.8C187.0 349.1 187.6 355.2 188.2 359.8C188.8 364.4 189.4 367.4 190.2 372.2C191.0 377.0 192.0 382.7 193.2 388.5C194.4 394.3 196.1 402.6 197.3 406.8C198.5 411.1 199.7 411.9 200.5 414.0C201.3 416.1 201.7 417.5 202.4 419.5C203.2 421.5 204.1 423.9 205.0 426.0C205.9 428.1 207.0 430.4 208.0 432.0C209.0 433.6 210.0 434.6 211.0 435.5C212.0 436.4 213.1 437.2 214.0 437.3C214.9 437.4 215.7 436.2 216.5 435.8C217.3 435.4 218.1 434.9 218.8 435.2C219.5 435.5 219.9 436.1 220.5 437.5C221.1 438.9 221.7 441.8 222.5 443.5C223.3 445.2 224.3 447.3 225.2 447.8C226.1 448.3 226.7 446.4 228.0 446.5C229.3 446.6 230.9 448.2 232.9 448.5C234.9 448.8 237.7 448.6 240.0 448.5C242.3 448.4 244.8 448.5 247.0 448.0C249.2 447.5 251.5 445.5 253.2 445.4C254.9 445.3 255.5 447.0 257.0 447.5C258.5 448.0 260.5 448.2 262.0 448.5C263.5 448.8 264.8 448.4 266.0 449.5C267.2 450.6 268.3 454.8 269.5 455.2C270.7 455.6 271.6 453.1 273.0 452.0C274.4 450.9 276.1 448.9 277.6 448.5C279.1 448.1 280.1 449.2 282.0 449.5C283.9 449.8 287.7 450.2 288.8 450.3" fill="none" stroke="#000" stroke-width="1.6"/>
<path d="M57.0 463.4C59.7 463.2 70.2 462.4 73.4 462.2C76.6 462.0 72.9 462.4 76.3 462.0C79.7 461.6 90.4 460.1 93.8 459.7C97.2 459.3 93.8 460.0 96.7 459.4C99.6 458.8 107.1 457.5 111.3 456.2C115.5 454.9 119.4 453.3 121.8 451.8C124.2 450.3 124.7 448.2 125.9 447.0C127.1 445.8 127.7 445.9 128.8 444.8C129.9 443.7 131.1 443.6 132.3 440.4C133.5 437.2 134.6 430.3 135.8 425.5C137.0 420.7 138.1 415.9 139.3 411.5C140.5 407.1 141.7 404.2 142.9 399.3C144.1 394.4 145.0 388.9 146.4 381.8C147.8 374.7 150.0 364.9 151.6 356.5C153.2 348.1 154.6 339.0 155.8 331.5C157.1 324.0 158.1 316.3 159.1 311.6C160.1 306.9 160.8 305.1 161.6 303.3C162.4 301.5 163.3 300.7 164.1 300.8C164.9 300.9 165.6 302.9 166.6 304.1C167.6 305.4 168.8 307.6 169.9 308.3C171.0 309.1 172.2 308.3 173.3 308.6C174.4 308.9 175.5 308.9 176.6 310.0C177.7 311.1 178.8 312.7 179.9 314.9C181.0 317.1 182.4 320.1 183.2 323.2C184.0 326.2 184.3 329.6 184.9 333.2C185.5 336.8 185.9 340.4 186.5 344.8C187.1 349.2 187.6 355.2 188.2 359.8C188.8 364.4 189.4 367.4 190.2 372.2C191.0 377.0 192.0 382.7 193.2 388.5C194.4 394.3 195.8 401.4 197.3 406.8C198.8 412.2 200.5 416.9 202.4 421.0C204.3 425.1 206.1 428.3 208.5 431.2C210.9 434.1 213.5 436.3 216.6 438.3C219.7 440.3 222.7 442.0 226.8 443.4C230.9 444.8 235.2 445.5 241.0 446.4C246.8 447.2 253.4 447.9 261.4 448.5C269.4 449.1 284.2 449.8 288.8 450.1" fill="none" stroke="#e41c1c" stroke-width="1.6"/>
<text x="354.5" y="301.8" style="font-family:'Liberation Sans',sans-serif;font-weight:bold;font-size:36px">d</text>
<rect x="387.5" y="283.9" width="284.00" height="211.10" fill="none" stroke="#050505" stroke-width="1.75"/>
<line x1="387.20" y1="495" x2="387.20" y2="498.0" stroke="#000" stroke-width="1.5"/>
<line x1="406.13" y1="495" x2="406.13" y2="499.7" stroke="#000" stroke-width="1.5"/>
<text transform="translate(406.13,512.8) scale(1.0,1.14)" text-anchor="middle" style="font-family:'Liberation Sans',sans-serif;font-weight:bold;font-size:13.2px">396</text>
<line x1="425.06" y1="495" x2="425.06" y2="498.0" stroke="#000" stroke-width="1.5"/>
<line x1="443.99" y1="495" x2="443.99" y2="499.7" stroke="#000" stroke-width="1.5"/>
<text transform="translate(443.99,512.8) scale(1.0,1.14)" text-anchor="middle" style="font-family:'Liberation Sans',sans-serif;font-weight:bold;font-size:13.2px">398</text>
<line x1="462.92" y1="495" x2="462.92" y2="498.0" stroke="#000" stroke-width="1.5"/>
<line x1="481.85" y1="495" x2="481.85" y2="499.7" stroke="#000" stroke-width="1.5"/>
<text transform="translate(481.85,512.8) scale(1.0,1.14)" text-anchor="middle" style="font-family:'Liberation Sans',sans-serif;font-weight:bold;font-size:13.2px">400</text>
<line x1="500.78" y1="495" x2="500.78" y2="498.0" stroke="#000" stroke-width="1.5"/>
<line x1="519.71" y1="495" x2="519.71" y2="499.7" stroke="#000" stroke-width="1.5"/>
<text transform="translate(519.71,512.8) scale(1.0,1.14)" text-anchor="middle" style="font-family:'Liberation Sans',sans-serif;font-weight:bold;font-size:13.2px">402</text>
<line x1="538.64" y1="495" x2="538.64" y2="498.0" stroke="#000" stroke-width="1.5"/>
<line x1="557.57" y1="495" x2="557.57" y2="499.7" stroke="#000" stroke-width="1.5"/>
<text transform="translate(557.57,512.8) scale(1.0,1.14)" text-anchor="middle" style="font-family:'Liberation Sans',sans-serif;font-weight:bold;font-size:13.2px">404</text>
<line x1="576.50" y1="495" x2="576.50" y2="498.0" stroke="#000" stroke-width="1.5"/>
<line x1="595.43" y1="495" x2="595.43" y2="499.7" stroke="#000" stroke-width="1.5"/>
<text transform="translate(595.43,512.8) scale(1.0,1.14)" text-anchor="middle" style="font-family:'Liberation Sans',sans-serif;font-weight:bold;font-size:13.2px">406</text>
<line x1="614.36" y1="495" x2="614.36" y2="498.0" stroke="#000" stroke-width="1.5"/>
<line x1="633.29" y1="495" x2="633.29" y2="499.7" stroke="#000" stroke-width="1.5"/>
<text transform="translate(633.29,512.8) scale(1.0,1.14)" text-anchor="middle" style="font-family:'Liberation Sans',sans-serif;font-weight:bold;font-size:13.2px">408</text>
<line x1="652.22" y1="495" x2="652.22" y2="498.0" stroke="#000" stroke-width="1.5"/>
<line x1="671.15" y1="495" x2="671.15" y2="499.7" stroke="#000" stroke-width="1.5"/>
<text transform="translate(671.15,512.8) scale(1.0,1.14)" text-anchor="middle" style="font-family:'Liberation Sans',sans-serif;font-weight:bold;font-size:13.2px">410</text>
<text x="529.3" y="535.9" text-anchor="middle" style="font-family:'Liberation Sans',sans-serif;font-weight:bold;font-size:13.95px">Binding Energy (eV)</text>
<text transform="translate(367.2,395) rotate(-90)" text-anchor="middle" style="font-family:'Liberation Sans',sans-serif;font-weight:bold;font-size:13.4px">Counts / s</text>
<text transform="translate(523,339) scale(1.0,1.075)" style="font-family:'Liberation Serif',serif;font-weight:bold;font-size:26px">N1s</text>
<path d="M436.5 422.6L437.5 422.8L438.5 423.0L439.5 423.3L440.5 423.5L441.5 423.8L442.5 424.0L443.5 424.3L444.5 424.5L445.5 424.8L446.5 425.0L447.5 425.3L448.5 425.5L449.5 425.8L450.5 426.0L451.5 426.2L452.5 426.5L453.5 426.7L454.5 427.0L455.5 427.2L456.5 427.5L457.5 427.7L458.5 428.0L459.5 428.2L460.5 428.5L461.5 428.7L462.5 429.0L463.5 429.2L464.5 429.5L465.5 429.7L466.5 429.9L467.5 430.2L468.5 430.4L469.5 430.7L470.5 430.9L471.5 431.2L472.5 431.4L473.5 431.7L474.5 431.9L475.5 432.2L476.5 432.4L477.5 432.7L478.5 432.9L479.5 433.2L480.5 433.4L481.5 433.6L482.5 433.9L483.5 434.1L484.5 434.4L485.5 434.6L486.5 434.9L487.5 435.1L488.5 435.4L489.5 435.6L490.5 435.9L491.5 436.1L492.5 436.4L493.5 436.6L494.5 436.8L495.5 437.1L496.5 437.3L497.5 437.6L498.5 437.8L499.5 438.1L500.5 438.3L501.5 438.6L502.5 438.8L503.5 439.1L504.5 439.3L505.5 439.6L506.5 439.8L507.5 440.1L508.5 440.3L509.5 440.5L510.5 440.8L511.5 441.0L512.5 441.3L513.5 441.5L514.5 441.8L515.5 442.0L516.5 442.3L517.5 442.5L518.5 442.8L519.5 443.0L520.5 443.3L521.5 443.5L522.5 443.7L523.5 444.0L524.5 444.2L525.5 444.5L526.5 444.7L527.5 445.0L528.5 445.2L529.5 445.5L530.5 445.7L531.5 446.0L532.5 446.2L533.5 446.5L534.5 446.7L535.5 447.0L536.5 447.2L537.5 447.4L538.5 447.7L539.5 447.9L540.5 448.2L541.5 448.4L542.5 448.7L543.5 448.9L544.5 449.2L545.5 449.4L546.5 449.7L547.5 449.9L548.5 450.2L549.5 450.4L550.5 450.7L551.5 450.9L552.5 451.1L553.5 451.4L554.5 451.6L555.5 451.9L556.5 452.1L557.5 452.4L558.5 452.6L559.5 452.9L560.5 453.1L561.5 453.4L562.5 453.6L563.5 453.9L564.5 454.1L565.5 454.3L566.5 454.6L567.5 454.8L568.5 455.1L569.5 455.3L570.5 455.6L571.5 455.8L572.5 456.1L573.5 456.3L574.5 456.6L575.5 456.8L576.5 457.1L577.5 457.3L578.5 457.6L579.5 457.8L580.5 458.0L581.5 458.3L582.5 458.5L583.5 458.8L584.5 459.0L585.5 459.3L586.5 459.5L587.5 459.8L588.5 460.0L589.5 460.3L590.5 460.5L591.5 460.8L592.5 461.0L593.5 461.3L594.5 461.5L595.5 461.7L596.5 462.0L597.5 462.2L598.5 462.5L599.5 462.7L600.5 463.0L601.5 463.2L602.5 463.5L603.5 463.7L604.5 464.0L605.5 464.2L606.5 464.5L607.5 464.7L608.5 464.9L609.5 465.2L610.5 465.4L611.5 465.7L612.5 465.9L613.5 466.2L614.5 466.4L615.5 466.7L616.5 466.9L617.5 467.2L618.5 467.4L619.5 467.7L620.5 467.9L621.5 468.2L622.5 468.4L623.5 468.6L624.5 468.9L625.5 469.1L626.5 469.4L627.5 469.6L628.5 469.9L629.5 470.1L630.5 470.4L631.5 470.6L632.5 470.9L633.5 471.1L634.5 471.4L635.5 471.6L636.5 471.9L637.5 472.1L638.5 472.3L639.5 472.6L640.5 472.8L641.5 473.1L642.5 473.3L643.5 473.6L644.5 473.8L645.5 474.1L646.5 474.3L647.5 474.6L648.5 474.8L649.5 475.1L650.5 475.3L651.5 475.5" fill="none" stroke="#2a10b0" stroke-width="2.0"/>
<path d="M436.3 410.8L436.8 410.6L437.3 410.4L437.8 410.3L438.3 410.1L438.8 409.9L439.3 409.6L439.8 409.4L440.3 409.2L440.8 408.9L441.3 408.6L441.8 408.4L442.3 408.0L442.8 407.7L443.3 407.4L443.8 407.0L444.3 406.6L444.8 406.2L445.3 405.8L445.8 405.4L446.3 404.9L446.8 404.4L447.3 403.9L447.8 403.4L448.3 402.9L448.8 402.3L449.3 401.7L449.8 401.0L450.3 400.4L450.8 399.7L451.3 399.0L451.8 398.2L452.3 397.4L452.8 396.6L453.3 395.8L453.8 394.9L454.3 394.0L454.8 393.1L455.3 392.1L455.8 391.1L456.3 390.1L456.8 389.0L457.3 387.9L457.8 386.8L458.3 385.6L458.8 384.4L459.3 383.2L459.8 382.0L460.3 380.7L460.8 379.3L461.3 378.0L461.8 376.6L462.3 375.2L462.8 373.7L463.3 372.3L463.8 370.8L464.3 369.3L464.8 367.8L465.3 366.2L465.8 364.7L466.3 363.1L466.8 361.6L467.3 360.0L467.8 358.4L468.3 356.9L468.8 355.4L469.3 353.8L469.8 352.3L470.3 350.9L470.8 349.5L471.3 348.1L471.8 346.8L472.3 345.5L472.8 344.4L473.3 343.2L473.8 342.2L474.3 341.3L474.8 340.4L475.3 339.7L475.8 339.1L476.3 338.6L476.8 338.2L477.3 337.9L477.8 337.8L478.3 337.8L478.8 337.9L479.3 338.2L479.8 338.6L480.3 339.2L480.8 339.8L481.3 340.7L481.8 341.6L482.3 342.7L482.8 343.9L483.3 345.1L483.8 346.5L484.3 348.0L484.8 349.5L485.3 351.1L485.8 352.8L486.3 354.6L486.8 356.3L487.3 358.2L487.8 360.0L488.3 361.9L488.8 363.8L489.3 365.6L489.8 367.5L490.3 369.4L490.8 371.3L491.3 373.2L491.8 375.1L492.3 376.9L492.8 378.8L493.3 380.6L493.8 382.3L494.3 384.1L494.8 385.8L495.3 387.5L495.8 389.1L496.3 390.8L496.8 392.3L497.3 393.9L497.8 395.4L498.3 396.9L498.8 398.3L499.3 399.7L499.8 401.1L500.3 402.4L500.8 403.7L501.3 405.0L501.8 406.2L502.3 407.4L502.8 408.5L503.3 409.6L503.8 410.7L504.3 411.8L504.8 412.8L505.3 413.8L505.8 414.7L506.3 415.6L506.8 416.5L507.3 417.4L507.8 418.2L508.3 419.0L508.8 419.8L509.3 420.6L509.8 421.3L510.3 422.0L510.8 422.7L511.3 423.4L511.8 424.0L512.3 424.6L512.8 425.2L513.3 425.8L513.8 426.4L514.3 426.9L514.8 427.5L515.3 428.0L515.8 428.5L516.3 429.0L516.8 429.4L517.3 429.9L517.8 430.3L518.3 430.7L518.8 431.2L519.3 431.6L519.8 432.0L520.3 432.3L520.8 432.7L521.3 433.1L521.8 433.4L522.3 433.8L522.8 434.1L523.3 434.5L523.8 434.8L524.3 435.1L524.8 435.4L525.3 435.7L525.8 436.0L526.3 436.3L526.8 436.6L527.3 436.9L527.8 437.2L528.3 437.4L528.8 437.7L529.3 438.0L529.8 438.2L530.3 438.5L530.8 438.7L531.3 439.0L531.8 439.2L532.3 439.5L532.8 439.7L533.3 439.9L533.8 440.2L534.3 440.4L534.8 440.6L535.3 440.9L535.8 441.1L536.3 441.3L536.8 441.5L537.3 441.7L537.8 441.9L538.3 442.1L538.8 442.4L539.3 442.6L539.8 442.8L540.3 443.0L540.8 443.2L541.3 443.4L541.8 443.6L542.3 443.8L542.8 443.9L543.3 444.1L543.8 444.3L544.3 444.5L544.8 444.7L545.3 444.9L545.8 445.1L546.3 445.3L546.8 445.4L547.3 445.6L547.8 445.8L548.3 446.0L548.8 446.2L549.3 446.3L549.8 446.5L550.3 446.7L550.8 446.9L551.3 447.0L551.8 447.2L552.3 447.4L552.8 447.6L553.3 447.7L553.8 447.9L554.3 448.1L554.8 448.2L555.3 448.4L555.8 448.6L556.3 448.7L556.8 448.9L557.3 449.1L557.8 449.2L558.3 449.4L558.8 449.5L559.3 449.7L559.8 449.9L560.3 450.0L560.8 450.2L561.3 450.3L561.8 450.5L562.3 450.7L562.8 450.8L563.3 451.0L563.8 451.1L564.3 451.3L564.8 451.4L565.3 451.6L565.8 451.7L566.3 451.9L566.8 452.0L567.3 452.2L567.8 452.3L568.3 452.5L568.8 452.6L569.3 452.8L569.8 452.9L570.3 453.1L570.8 453.2L571.3 453.4L571.8 453.5L572.3 453.7L572.8 453.8L573.3 454.0L573.8 454.1L574.3 454.3L574.8 454.4L575.3 454.6L575.8 454.7L576.3 454.9L576.8 455.0L577.3 455.1L577.8 455.3L578.3 455.4L578.8 455.6L579.3 455.7L579.8 455.9L580.3 456.0L580.8 456.1L581.3 456.3L581.8 456.4L582.3 456.6L582.8 456.7L583.3 456.8L583.8 457.0L584.3 457.1L584.8 457.3L585.3 457.4L585.8 457.6L586.3 457.7L586.8 457.8L587.3 458.0L587.8 458.1L588.3 458.2L588.8 458.4L589.3 458.5L589.8 458.7L590.3 458.8L590.8 458.9L591.3 459.1L591.8 459.2L592.3 459.3L592.8 459.5L593.3 459.6L593.8 459.8L594.3 459.9L594.8 460.0L595.3 460.2L595.8 460.3L596.3 460.4L596.8 460.6L597.3 460.7L597.8 460.8L598.3 461.0L598.8 461.1L599.3 461.3L599.8 461.4L600.3 461.5L600.8 461.7L601.3 461.8L601.8 461.9L602.3 462.1L602.8 462.2L603.3 462.3L603.8 462.5L604.3 462.6L604.8 462.7L605.3 462.9L605.8 463.0L606.3 463.1L606.8 463.3L607.3 463.4L607.8 463.5L608.3 463.7L608.8 463.8L609.3 463.9L609.8 464.1L610.3 464.2L610.8 464.3L611.3 464.5L611.8 464.6L612.3 464.7L612.8 464.8L613.3 465.0L613.8 465.1L614.3 465.2L614.8 465.4L615.3 465.5L615.8 465.6L616.3 465.8L616.8 465.9L617.3 466.0L617.8 466.2L618.3 466.3L618.8 466.4L619.3 466.6L619.8 466.7L620.3 466.8L620.8 466.9L621.3 467.1L621.8 467.2L622.3 467.3L622.8 467.5L623.3 467.6L623.8 467.7L624.3 467.9L624.8 468.0L625.3 468.1L625.8 468.2L626.3 468.4L626.8 468.5L627.3 468.6L627.8 468.8L628.3 468.9L628.8 469.0L629.3 469.2L629.8 469.3L630.3 469.4L630.8 469.5L631.3 469.7L631.8 469.8L632.3 469.9L632.8 470.1L633.3 470.2L633.8 470.3L634.3 470.4L634.8 470.6L635.3 470.7L635.8 470.8L636.3 471.0L636.8 471.1L637.3 471.2L637.8 471.3L638.3 471.5L638.8 471.6L639.3 471.7L639.8 471.9L640.3 472.0L640.8 472.1L641.3 472.2L641.8 472.4L642.3 472.5L642.8 472.6L643.3 472.8L643.8 472.9L644.3 473.0L644.8 473.1L645.3 473.3L645.8 473.4L646.3 473.5L646.8 473.6L647.3 473.8L647.8 473.9L648.3 474.0L648.8 474.2L649.3 474.3L649.8 474.4L650.3 474.5L650.8 474.7L651.3 474.8" fill="none" stroke="#1414ec" stroke-width="1.6" stroke-linejoin="round"/>
<path d="M436.3 420.6L436.8 420.7L437.3 420.8L437.8 420.9L438.3 421.0L438.8 421.1L439.3 421.2L439.8 421.3L440.3 421.4L440.8 421.5L441.3 421.5L441.8 421.6L442.3 421.7L442.8 421.8L443.3 421.9L443.8 421.9L444.3 422.0L444.8 422.1L445.3 422.2L445.8 422.3L446.3 422.3L446.8 422.4L447.3 422.5L447.8 422.5L448.3 422.6L448.8 422.7L449.3 422.7L449.8 422.8L450.3 422.9L450.8 422.9L451.3 423.0L451.8 423.0L452.3 423.1L452.8 423.1L453.3 423.2L453.8 423.2L454.3 423.3L454.8 423.3L455.3 423.3L455.8 423.4L456.3 423.4L456.8 423.4L457.3 423.4L457.8 423.4L458.3 423.4L458.8 423.4L459.3 423.4L459.8 423.4L460.3 423.4L460.8 423.4L461.3 423.3L461.8 423.3L462.3 423.2L462.8 423.2L463.3 423.1L463.8 423.0L464.3 422.9L464.8 422.8L465.3 422.7L465.8 422.5L466.3 422.4L466.8 422.2L467.3 422.0L467.8 421.7L468.3 421.5L468.8 421.2L469.3 420.9L469.8 420.6L470.3 420.2L470.8 419.9L471.3 419.4L471.8 419.0L472.3 418.5L472.8 418.0L473.3 417.4L473.8 416.8L474.3 416.2L474.8 415.5L475.3 414.7L475.8 413.9L476.3 413.1L476.8 412.2L477.3 411.3L477.8 410.3L478.3 409.3L478.8 408.2L479.3 407.1L479.8 405.9L480.3 404.6L480.8 403.3L481.3 402.0L481.8 400.6L482.3 399.2L482.8 397.7L483.3 396.1L483.8 394.6L484.3 393.0L484.8 391.3L485.3 389.7L485.8 388.0L486.3 386.3L486.8 384.6L487.3 382.9L487.8 381.2L488.3 379.5L488.8 377.9L489.3 376.3L489.8 374.7L490.3 373.2L490.8 371.8L491.3 370.5L491.8 369.3L492.3 368.2L492.8 367.3L493.3 366.4L493.8 365.8L494.3 365.3L494.8 365.0L495.3 364.8L495.8 364.9L496.3 365.1L496.8 365.6L497.3 366.2L497.8 367.0L498.3 368.0L498.8 369.1L499.3 370.4L499.8 371.9L500.3 373.4L500.8 375.1L501.3 376.8L501.8 378.7L502.3 380.5L502.8 382.5L503.3 384.4L503.8 386.4L504.3 388.4L504.8 390.4L505.3 392.4L505.8 394.4L506.3 396.4L506.8 398.3L507.3 400.2L507.8 402.1L508.3 403.9L508.8 405.7L509.3 407.4L509.8 409.1L510.3 410.7L510.8 412.3L511.3 413.8L511.8 415.3L512.3 416.7L512.8 418.1L513.3 419.4L513.8 420.6L514.3 421.8L514.8 423.0L515.3 424.0L515.8 425.1L516.3 426.1L516.8 427.0L517.3 427.9L517.8 428.8L518.3 429.6L518.8 430.3L519.3 431.1L519.8 431.8L520.3 432.4L520.8 433.0L521.3 433.6L521.8 434.2L522.3 434.7L522.8 435.2L523.3 435.7L523.8 436.2L524.3 436.6L524.8 437.1L525.3 437.5L525.8 437.8L526.3 438.2L526.8 438.6L527.3 438.9L527.8 439.2L528.3 439.5L528.8 439.9L529.3 440.1L529.8 440.4L530.3 440.7L530.8 441.0L531.3 441.2L531.8 441.5L532.3 441.7L532.8 442.0L533.3 442.2L533.8 442.4L534.3 442.7L534.8 442.9L535.3 443.1L535.8 443.3L536.3 443.5L536.8 443.7L537.3 443.9L537.8 444.1L538.3 444.3L538.8 444.5L539.3 444.7L539.8 444.9L540.3 445.1L540.8 445.3L541.3 445.5L541.8 445.7L542.3 445.8L542.8 446.0L543.3 446.2L543.8 446.4L544.3 446.5L544.8 446.7L545.3 446.9L545.8 447.1L546.3 447.2L546.8 447.4L547.3 447.6L547.8 447.7L548.3 447.9L548.8 448.1L549.3 448.2L549.8 448.4L550.3 448.5L550.8 448.7L551.3 448.9L551.8 449.0L552.3 449.2L552.8 449.3L553.3 449.5L553.8 449.6L554.3 449.8L554.8 449.9L555.3 450.1L555.8 450.2L556.3 450.4L556.8 450.5L557.3 450.7L557.8 450.8L558.3 451.0L558.8 451.1L559.3 451.3L559.8 451.4L560.3 451.6L560.8 451.7L561.3 451.9L561.8 452.0L562.3 452.1L562.8 452.3L563.3 452.4L563.8 452.6L564.3 452.7L564.8 452.9L565.3 453.0L565.8 453.1L566.3 453.3L566.8 453.4L567.3 453.6L567.8 453.7L568.3 453.8L568.8 454.0L569.3 454.1L569.8 454.3L570.3 454.4L570.8 454.5L571.3 454.7L571.8 454.8L572.3 454.9L572.8 455.1L573.3 455.2L573.8 455.4L574.3 455.5L574.8 455.6L575.3 455.8L575.8 455.9L576.3 456.0L576.8 456.2L577.3 456.3L577.8 456.4L578.3 456.6L578.8 456.7L579.3 456.8L579.8 457.0L580.3 457.1L580.8 457.2L581.3 457.4L581.8 457.5L582.3 457.6L582.8 457.8L583.3 457.9L583.8 458.0L584.3 458.2L584.8 458.3L585.3 458.4L585.8 458.6L586.3 458.7L586.8 458.8L587.3 459.0L587.8 459.1L588.3 459.2L588.8 459.4L589.3 459.5L589.8 459.6L590.3 459.7L590.8 459.9L591.3 460.0L591.8 460.1L592.3 460.3L592.8 460.4L593.3 460.5L593.8 460.7L594.3 460.8L594.8 460.9L595.3 461.1L595.8 461.2L596.3 461.3L596.8 461.4L597.3 461.6L597.8 461.7L598.3 461.8L598.8 462.0L599.3 462.1L599.8 462.2L600.3 462.3L600.8 462.5L601.3 462.6L601.8 462.7L602.3 462.9L602.8 463.0L603.3 463.1L603.8 463.2L604.3 463.4L604.8 463.5L605.3 463.6L605.8 463.8L606.3 463.9L606.8 464.0L607.3 464.1L607.8 464.3L608.3 464.4L608.8 464.5L609.3 464.6L609.8 464.8L610.3 464.9L610.8 465.0L611.3 465.2L611.8 465.3L612.3 465.4L612.8 465.5L613.3 465.7L613.8 465.8L614.3 465.9L614.8 466.0L615.3 466.2L615.8 466.3L616.3 466.4L616.8 466.6L617.3 466.7L617.8 466.8L618.3 466.9L618.8 467.1L619.3 467.2L619.8 467.3L620.3 467.4L620.8 467.6L621.3 467.7L621.8 467.8L622.3 467.9L622.8 468.1L623.3 468.2L623.8 468.3L624.3 468.5L624.8 468.6L625.3 468.7L625.8 468.8L626.3 469.0L626.8 469.1L627.3 469.2L627.8 469.3L628.3 469.5L628.8 469.6L629.3 469.7L629.8 469.8L630.3 470.0L630.8 470.1L631.3 470.2L631.8 470.3L632.3 470.5L632.8 470.6L633.3 470.7L633.8 470.8L634.3 471.0L634.8 471.1L635.3 471.2L635.8 471.4L636.3 471.5L636.8 471.6L637.3 471.7L637.8 471.9L638.3 472.0L638.8 472.1L639.3 472.2L639.8 472.4L640.3 472.5L640.8 472.6L641.3 472.7L641.8 472.9L642.3 473.0L642.8 473.1L643.3 473.2L643.8 473.4L644.3 473.5L644.8 473.6L645.3 473.7L645.8 473.9L646.3 474.0L646.8 474.1L647.3 474.2L647.8 474.4L648.3 474.5L648.8 474.6L649.3 474.7L649.8 474.9L650.3 475.0L650.8 475.1L651.3 475.2" fill="none" stroke="#f414f4" stroke-width="1.6" stroke-linejoin="round"/>
<path d="M436.3 421.9L436.8 422.0L437.3 422.1L437.8 422.3L438.3 422.4L438.8 422.5L439.3 422.6L439.8 422.7L440.3 422.8L440.8 422.9L441.3 423.1L441.8 423.2L442.3 423.3L442.8 423.4L443.3 423.5L443.8 423.6L444.3 423.7L444.8 423.9L445.3 424.0L445.8 424.1L446.3 424.2L446.8 424.3L447.3 424.4L447.8 424.5L448.3 424.6L448.8 424.8L449.3 424.9L449.8 425.0L450.3 425.1L450.8 425.2L451.3 425.3L451.8 425.4L452.3 425.5L452.8 425.6L453.3 425.7L453.8 425.9L454.3 426.0L454.8 426.1L455.3 426.2L455.8 426.3L456.3 426.4L456.8 426.5L457.3 426.6L457.8 426.7L458.3 426.8L458.8 426.9L459.3 427.0L459.8 427.1L460.3 427.2L460.8 427.3L461.3 427.4L461.8 427.5L462.3 427.6L462.8 427.7L463.3 427.8L463.8 427.9L464.3 428.0L464.8 428.1L465.3 428.2L465.8 428.3L466.3 428.4L466.8 428.5L467.3 428.6L467.8 428.7L468.3 428.8L468.8 428.9L469.3 429.0L469.8 429.1L470.3 429.2L470.8 429.3L471.3 429.3L471.8 429.4L472.3 429.5L472.8 429.6L473.3 429.7L473.8 429.8L474.3 429.8L474.8 429.9L475.3 430.0L475.8 430.1L476.3 430.2L476.8 430.2L477.3 430.3L477.8 430.4L478.3 430.4L478.8 430.5L479.3 430.6L479.8 430.6L480.3 430.7L480.8 430.7L481.3 430.8L481.8 430.8L482.3 430.9L482.8 430.9L483.3 430.9L483.8 431.0L484.3 431.0L484.8 431.0L485.3 431.1L485.8 431.1L486.3 431.1L486.8 431.1L487.3 431.1L487.8 431.1L488.3 431.1L488.8 431.0L489.3 431.0L489.8 431.0L490.3 430.9L490.8 430.8L491.3 430.8L491.8 430.7L492.3 430.6L492.8 430.5L493.3 430.4L493.8 430.2L494.3 430.1L494.8 429.9L495.3 429.7L495.8 429.5L496.3 429.3L496.8 429.0L497.3 428.8L497.8 428.5L498.3 428.2L498.8 427.8L499.3 427.4L499.8 427.0L500.3 426.6L500.8 426.2L501.3 425.7L501.8 425.2L502.3 424.6L502.8 424.1L503.3 423.5L503.8 422.8L504.3 422.2L504.8 421.5L505.3 420.7L505.8 420.0L506.3 419.2L506.8 418.4L507.3 417.6L507.8 416.7L508.3 415.8L508.8 414.9L509.3 414.0L509.8 413.1L510.3 412.2L510.8 411.3L511.3 410.5L511.8 409.6L512.3 408.8L512.8 408.1L513.3 407.4L513.8 406.8L514.3 406.3L514.8 405.8L515.3 405.5L515.8 405.2L516.3 405.1L516.8 405.1L517.3 405.3L517.8 405.5L518.3 405.9L518.8 406.5L519.3 407.1L519.8 407.8L520.3 408.7L520.8 409.6L521.3 410.6L521.8 411.6L522.3 412.7L522.8 413.9L523.3 415.0L523.8 416.2L524.3 417.4L524.8 418.5L525.3 419.7L525.8 420.9L526.3 422.0L526.8 423.1L527.3 424.2L527.8 425.3L528.3 426.3L528.8 427.3L529.3 428.3L529.8 429.2L530.3 430.1L530.8 431.0L531.3 431.9L531.8 432.7L532.3 433.4L532.8 434.2L533.3 434.9L533.8 435.6L534.3 436.2L534.8 436.8L535.3 437.4L535.8 438.0L536.3 438.5L536.8 439.1L537.3 439.5L537.8 440.0L538.3 440.5L538.8 440.9L539.3 441.3L539.8 441.7L540.3 442.1L540.8 442.5L541.3 442.8L541.8 443.2L542.3 443.5L542.8 443.8L543.3 444.1L543.8 444.4L544.3 444.7L544.8 445.0L545.3 445.2L545.8 445.5L546.3 445.8L546.8 446.0L547.3 446.2L547.8 446.5L548.3 446.7L548.8 446.9L549.3 447.1L549.8 447.4L550.3 447.6L550.8 447.8L551.3 448.0L551.8 448.2L552.3 448.4L552.8 448.6L553.3 448.8L553.8 448.9L554.3 449.1L554.8 449.3L555.3 449.5L555.8 449.7L556.3 449.9L556.8 450.0L557.3 450.2L557.8 450.4L558.3 450.5L558.8 450.7L559.3 450.9L559.8 451.0L560.3 451.2L560.8 451.4L561.3 451.5L561.8 451.7L562.3 451.9L562.8 452.0L563.3 452.2L563.8 452.3L564.3 452.5L564.8 452.6L565.3 452.8L565.8 452.9L566.3 453.1L566.8 453.2L567.3 453.4L567.8 453.5L568.3 453.7L568.8 453.8L569.3 454.0L569.8 454.1L570.3 454.3L570.8 454.4L571.3 454.6L571.8 454.7L572.3 454.9L572.8 455.0L573.3 455.1L573.8 455.3L574.3 455.4L574.8 455.6L575.3 455.7L575.8 455.8L576.3 456.0L576.8 456.1L577.3 456.3L577.8 456.4L578.3 456.5L578.8 456.7L579.3 456.8L579.8 457.0L580.3 457.1L580.8 457.2L581.3 457.4L581.8 457.5L582.3 457.6L582.8 457.8L583.3 457.9L583.8 458.0L584.3 458.2L584.8 458.3L585.3 458.5L585.8 458.6L586.3 458.7L586.8 458.9L587.3 459.0L587.8 459.1L588.3 459.3L588.8 459.4L589.3 459.5L589.8 459.7L590.3 459.8L590.8 459.9L591.3 460.0L591.8 460.2L592.3 460.3L592.8 460.4L593.3 460.6L593.8 460.7L594.3 460.8L594.8 461.0L595.3 461.1L595.8 461.2L596.3 461.4L596.8 461.5L597.3 461.6L597.8 461.8L598.3 461.9L598.8 462.0L599.3 462.1L599.8 462.3L600.3 462.4L600.8 462.5L601.3 462.7L601.8 462.8L602.3 462.9L602.8 463.0L603.3 463.2L603.8 463.3L604.3 463.4L604.8 463.6L605.3 463.7L605.8 463.8L606.3 463.9L606.8 464.1L607.3 464.2L607.8 464.3L608.3 464.5L608.8 464.6L609.3 464.7L609.8 464.8L610.3 465.0L610.8 465.1L611.3 465.2L611.8 465.4L612.3 465.5L612.8 465.6L613.3 465.7L613.8 465.9L614.3 466.0L614.8 466.1L615.3 466.2L615.8 466.4L616.3 466.5L616.8 466.6L617.3 466.8L617.8 466.9L618.3 467.0L618.8 467.1L619.3 467.3L619.8 467.4L620.3 467.5L620.8 467.6L621.3 467.8L621.8 467.9L622.3 468.0L622.8 468.1L623.3 468.3L623.8 468.4L624.3 468.5L624.8 468.6L625.3 468.8L625.8 468.9L626.3 469.0L626.8 469.2L627.3 469.3L627.8 469.4L628.3 469.5L628.8 469.7L629.3 469.8L629.8 469.9L630.3 470.0L630.8 470.2L631.3 470.3L631.8 470.4L632.3 470.5L632.8 470.7L633.3 470.8L633.8 470.9L634.3 471.0L634.8 471.2L635.3 471.3L635.8 471.4L636.3 471.5L636.8 471.7L637.3 471.8L637.8 471.9L638.3 472.0L638.8 472.2L639.3 472.3L639.8 472.4L640.3 472.5L640.8 472.7L641.3 472.8L641.8 472.9L642.3 473.0L642.8 473.2L643.3 473.3L643.8 473.4L644.3 473.5L644.8 473.7L645.3 473.8L645.8 473.9L646.3 474.0L646.8 474.2L647.3 474.3L647.8 474.4L648.3 474.5L648.8 474.7L649.3 474.8L649.8 474.9L650.3 475.0L650.8 475.2L651.3 475.3" fill="none" stroke="#008000" stroke-width="1.6" stroke-linejoin="round"/>
<path d="M436.3 422.3L436.8 422.5L437.3 422.6L437.8 422.7L438.3 422.8L438.8 422.9L439.3 423.1L439.8 423.2L440.3 423.3L440.8 423.4L441.3 423.6L441.8 423.7L442.3 423.8L442.8 423.9L443.3 424.0L443.8 424.2L444.3 424.3L444.8 424.4L445.3 424.5L445.8 424.6L446.3 424.8L446.8 424.9L447.3 425.0L447.8 425.1L448.3 425.3L448.8 425.4L449.3 425.5L449.8 425.6L450.3 425.7L450.8 425.9L451.3 426.0L451.8 426.1L452.3 426.2L452.8 426.3L453.3 426.5L453.8 426.6L454.3 426.7L454.8 426.8L455.3 426.9L455.8 427.1L456.3 427.2L456.8 427.3L457.3 427.4L457.8 427.5L458.3 427.7L458.8 427.8L459.3 427.9L459.8 428.0L460.3 428.1L460.8 428.3L461.3 428.4L461.8 428.5L462.3 428.6L462.8 428.7L463.3 428.9L463.8 429.0L464.3 429.1L464.8 429.2L465.3 429.3L465.8 429.5L466.3 429.6L466.8 429.7L467.3 429.8L467.8 429.9L468.3 430.1L468.8 430.2L469.3 430.3L469.8 430.4L470.3 430.5L470.8 430.7L471.3 430.8L471.8 430.9L472.3 431.0L472.8 431.1L473.3 431.2L473.8 431.4L474.3 431.5L474.8 431.6L475.3 431.7L475.8 431.8L476.3 431.9L476.8 432.1L477.3 432.2L477.8 432.3L478.3 432.4L478.8 432.5L479.3 432.6L479.8 432.8L480.3 432.9L480.8 433.0L481.3 433.1L481.8 433.2L482.3 433.3L482.8 433.5L483.3 433.6L483.8 433.7L484.3 433.8L484.8 433.9L485.3 434.0L485.8 434.1L486.3 434.3L486.8 434.4L487.3 434.5L487.8 434.6L488.3 434.7L488.8 434.8L489.3 434.9L489.8 435.0L490.3 435.2L490.8 435.3L491.3 435.4L491.8 435.5L492.3 435.6L492.8 435.7L493.3 435.8L493.8 435.9L494.3 436.0L494.8 436.1L495.3 436.2L495.8 436.3L496.3 436.5L496.8 436.6L497.3 436.7L497.8 436.8L498.3 436.9L498.8 437.0L499.3 437.1L499.8 437.2L500.3 437.3L500.8 437.4L501.3 437.5L501.8 437.6L502.3 437.7L502.8 437.8L503.3 437.9L503.8 438.0L504.3 438.1L504.8 438.1L505.3 438.2L505.8 438.3L506.3 438.4L506.8 438.5L507.3 438.6L507.8 438.7L508.3 438.8L508.8 438.8L509.3 438.9L509.8 439.0L510.3 439.1L510.8 439.1L511.3 439.2L511.8 439.3L512.3 439.3L512.8 439.4L513.3 439.5L513.8 439.5L514.3 439.6L514.8 439.6L515.3 439.7L515.8 439.7L516.3 439.8L516.8 439.8L517.3 439.8L517.8 439.8L518.3 439.8L518.8 439.8L519.3 439.8L519.8 439.8L520.3 439.8L520.8 439.8L521.3 439.7L521.8 439.7L522.3 439.6L522.8 439.5L523.3 439.4L523.8 439.3L524.3 439.2L524.8 439.0L525.3 438.8L525.8 438.6L526.3 438.4L526.8 438.2L527.3 437.9L527.8 437.6L528.3 437.3L528.8 436.9L529.3 436.5L529.8 436.1L530.3 435.6L530.8 435.1L531.3 434.6L531.8 434.1L532.3 433.5L532.8 432.8L533.3 432.2L533.8 431.5L534.3 430.8L534.8 430.1L535.3 429.3L535.8 428.5L536.3 427.8L536.8 427.0L537.3 426.2L537.8 425.5L538.3 424.8L538.8 424.2L539.3 423.6L539.8 423.1L540.3 422.8L540.8 422.5L541.3 422.4L541.8 422.4L542.3 422.5L542.8 422.7L543.3 423.0L543.8 423.5L544.3 424.0L544.8 424.6L545.3 425.3L545.8 426.1L546.3 426.9L546.8 427.7L547.3 428.6L547.8 429.5L548.3 430.4L548.8 431.4L549.3 432.3L549.8 433.2L550.3 434.1L550.8 435.0L551.3 435.9L551.8 436.7L552.3 437.5L552.8 438.3L553.3 439.1L553.8 439.9L554.3 440.6L554.8 441.3L555.3 441.9L555.8 442.6L556.3 443.2L556.8 443.8L557.3 444.3L557.8 444.8L558.3 445.4L558.8 445.8L559.3 446.3L559.8 446.8L560.3 447.2L560.8 447.6L561.3 448.0L561.8 448.4L562.3 448.7L562.8 449.1L563.3 449.4L563.8 449.7L564.3 450.0L564.8 450.3L565.3 450.6L565.8 450.9L566.3 451.1L566.8 451.4L567.3 451.6L567.8 451.9L568.3 452.1L568.8 452.3L569.3 452.5L569.8 452.8L570.3 453.0L570.8 453.2L571.3 453.4L571.8 453.6L572.3 453.8L572.8 454.0L573.3 454.2L573.8 454.3L574.3 454.5L574.8 454.7L575.3 454.9L575.8 455.1L576.3 455.2L576.8 455.4L577.3 455.6L577.8 455.7L578.3 455.9L578.8 456.1L579.3 456.2L579.8 456.4L580.3 456.5L580.8 456.7L581.3 456.9L581.8 457.0L582.3 457.2L582.8 457.3L583.3 457.5L583.8 457.6L584.3 457.8L584.8 457.9L585.3 458.1L585.8 458.2L586.3 458.4L586.8 458.5L587.3 458.7L587.8 458.8L588.3 459.0L588.8 459.1L589.3 459.2L589.8 459.4L590.3 459.5L590.8 459.7L591.3 459.8L591.8 459.9L592.3 460.1L592.8 460.2L593.3 460.4L593.8 460.5L594.3 460.6L594.8 460.8L595.3 460.9L595.8 461.1L596.3 461.2L596.8 461.3L597.3 461.5L597.8 461.6L598.3 461.7L598.8 461.9L599.3 462.0L599.8 462.1L600.3 462.3L600.8 462.4L601.3 462.5L601.8 462.7L602.3 462.8L602.8 462.9L603.3 463.1L603.8 463.2L604.3 463.3L604.8 463.5L605.3 463.6L605.8 463.7L606.3 463.9L606.8 464.0L607.3 464.1L607.8 464.3L608.3 464.4L608.8 464.5L609.3 464.7L609.8 464.8L610.3 464.9L610.8 465.0L611.3 465.2L611.8 465.3L612.3 465.4L612.8 465.6L613.3 465.7L613.8 465.8L614.3 465.9L614.8 466.1L615.3 466.2L615.8 466.3L616.3 466.5L616.8 466.6L617.3 466.7L617.8 466.8L618.3 467.0L618.8 467.1L619.3 467.2L619.8 467.4L620.3 467.5L620.8 467.6L621.3 467.7L621.8 467.9L622.3 468.0L622.8 468.1L623.3 468.3L623.8 468.4L624.3 468.5L624.8 468.6L625.3 468.8L625.8 468.9L626.3 469.0L626.8 469.1L627.3 469.3L627.8 469.4L628.3 469.5L628.8 469.7L629.3 469.8L629.8 469.9L630.3 470.0L630.8 470.2L631.3 470.3L631.8 470.4L632.3 470.5L632.8 470.7L633.3 470.8L633.8 470.9L634.3 471.0L634.8 471.2L635.3 471.3L635.8 471.4L636.3 471.5L636.8 471.7L637.3 471.8L637.8 471.9L638.3 472.1L638.8 472.2L639.3 472.3L639.8 472.4L640.3 472.6L640.8 472.7L641.3 472.8L641.8 472.9L642.3 473.1L642.8 473.2L643.3 473.3L643.8 473.4L644.3 473.6L644.8 473.7L645.3 473.8L645.8 473.9L646.3 474.1L646.8 474.2L647.3 474.3L647.8 474.4L648.3 474.6L648.8 474.7L649.3 474.8L649.8 474.9L650.3 475.1L650.8 475.2L651.3 475.3" fill="none" stroke="#10107c" stroke-width="1.6" stroke-linejoin="round"/>
<path d="M436.3 422.4L436.8 422.5L437.3 422.6L437.8 422.8L438.3 422.9L438.8 423.0L439.3 423.1L439.8 423.3L440.3 423.4L440.8 423.5L441.3 423.6L441.8 423.7L442.3 423.9L442.8 424.0L443.3 424.1L443.8 424.2L444.3 424.4L444.8 424.5L445.3 424.6L445.8 424.7L446.3 424.8L446.8 425.0L447.3 425.1L447.8 425.2L448.3 425.3L448.8 425.5L449.3 425.6L449.8 425.7L450.3 425.8L450.8 425.9L451.3 426.1L451.8 426.2L452.3 426.3L452.8 426.4L453.3 426.6L453.8 426.7L454.3 426.8L454.8 426.9L455.3 427.0L455.8 427.2L456.3 427.3L456.8 427.4L457.3 427.5L457.8 427.7L458.3 427.8L458.8 427.9L459.3 428.0L459.8 428.1L460.3 428.3L460.8 428.4L461.3 428.5L461.8 428.6L462.3 428.8L462.8 428.9L463.3 429.0L463.8 429.1L464.3 429.2L464.8 429.4L465.3 429.5L465.8 429.6L466.3 429.7L466.8 429.9L467.3 430.0L467.8 430.1L468.3 430.2L468.8 430.3L469.3 430.5L469.8 430.6L470.3 430.7L470.8 430.8L471.3 431.0L471.8 431.1L472.3 431.2L472.8 431.3L473.3 431.4L473.8 431.6L474.3 431.7L474.8 431.8L475.3 431.9L475.8 432.1L476.3 432.2L476.8 432.3L477.3 432.4L477.8 432.5L478.3 432.7L478.8 432.8L479.3 432.9L479.8 433.0L480.3 433.1L480.8 433.3L481.3 433.4L481.8 433.5L482.3 433.6L482.8 433.8L483.3 433.9L483.8 434.0L484.3 434.1L484.8 434.2L485.3 434.4L485.8 434.5L486.3 434.6L486.8 434.7L487.3 434.8L487.8 435.0L488.3 435.1L488.8 435.2L489.3 435.3L489.8 435.5L490.3 435.6L490.8 435.7L491.3 435.8L491.8 435.9L492.3 436.1L492.8 436.2L493.3 436.3L493.8 436.4L494.3 436.5L494.8 436.7L495.3 436.8L495.8 436.9L496.3 437.0L496.8 437.1L497.3 437.3L497.8 437.4L498.3 437.5L498.8 437.6L499.3 437.7L499.8 437.9L500.3 438.0L500.8 438.1L501.3 438.2L501.8 438.3L502.3 438.5L502.8 438.6L503.3 438.7L503.8 438.8L504.3 438.9L504.8 439.1L505.3 439.2L505.8 439.3L506.3 439.4L506.8 439.5L507.3 439.7L507.8 439.8L508.3 439.9L508.8 440.0L509.3 440.1L509.8 440.3L510.3 440.4L510.8 440.5L511.3 440.6L511.8 440.7L512.3 440.9L512.8 441.0L513.3 441.1L513.8 441.2L514.3 441.3L514.8 441.5L515.3 441.6L515.8 441.7L516.3 441.8L516.8 441.9L517.3 442.0L517.8 442.2L518.3 442.3L518.8 442.4L519.3 442.5L519.8 442.6L520.3 442.8L520.8 442.9L521.3 443.0L521.8 443.1L522.3 443.2L522.8 443.3L523.3 443.5L523.8 443.6L524.3 443.7L524.8 443.8L525.3 443.9L525.8 444.0L526.3 444.2L526.8 444.3L527.3 444.4L527.8 444.5L528.3 444.6L528.8 444.7L529.3 444.9L529.8 445.0L530.3 445.1L530.8 445.2L531.3 445.3L531.8 445.4L532.3 445.5L532.8 445.7L533.3 445.8L533.8 445.9L534.3 446.0L534.8 446.1L535.3 446.2L535.8 446.3L536.3 446.4L536.8 446.6L537.3 446.7L537.8 446.8L538.3 446.9L538.8 447.0L539.3 447.1L539.8 447.2L540.3 447.3L540.8 447.4L541.3 447.6L541.8 447.7L542.3 447.8L542.8 447.9L543.3 448.0L543.8 448.1L544.3 448.2L544.8 448.3L545.3 448.4L545.8 448.5L546.3 448.6L546.8 448.7L547.3 448.8L547.8 448.9L548.3 449.1L548.8 449.2L549.3 449.3L549.8 449.4L550.3 449.5L550.8 449.6L551.3 449.7L551.8 449.8L552.3 449.9L552.8 450.0L553.3 450.1L553.8 450.2L554.3 450.2L554.8 450.3L555.3 450.4L555.8 450.5L556.3 450.6L556.8 450.7L557.3 450.8L557.8 450.9L558.3 451.0L558.8 451.1L559.3 451.2L559.8 451.2L560.3 451.3L560.8 451.4L561.3 451.5L561.8 451.6L562.3 451.6L562.8 451.7L563.3 451.8L563.8 451.8L564.3 451.9L564.8 452.0L565.3 452.0L565.8 452.1L566.3 452.1L566.8 452.2L567.3 452.3L567.8 452.3L568.3 452.3L568.8 452.4L569.3 452.4L569.8 452.4L570.3 452.4L570.8 452.5L571.3 452.5L571.8 452.5L572.3 452.4L572.8 452.4L573.3 452.4L573.8 452.4L574.3 452.3L574.8 452.2L575.3 452.2L575.8 452.1L576.3 451.9L576.8 451.8L577.3 451.7L577.8 451.5L578.3 451.3L578.8 451.1L579.3 450.9L579.8 450.6L580.3 450.3L580.8 450.0L581.3 449.7L581.8 449.3L582.3 448.9L582.8 448.5L583.3 448.0L583.8 447.5L584.3 446.9L584.8 446.4L585.3 445.7L585.8 445.1L586.3 444.4L586.8 443.7L587.3 442.9L587.8 442.1L588.3 441.3L588.8 440.4L589.3 439.5L589.8 438.6L590.3 437.6L590.8 436.7L591.3 435.7L591.8 434.7L592.3 433.7L592.8 432.7L593.3 431.7L593.8 430.8L594.3 429.8L594.8 429.0L595.3 428.1L595.8 427.4L596.3 426.7L596.8 426.1L597.3 425.6L597.8 425.2L598.3 424.9L598.8 424.8L599.3 424.8L599.8 425.0L600.3 425.3L600.8 425.8L601.3 426.5L601.8 427.3L602.3 428.2L602.8 429.3L603.3 430.4L603.8 431.6L604.3 432.9L604.8 434.3L605.3 435.6L605.8 437.0L606.3 438.4L606.8 439.8L607.3 441.2L607.8 442.5L608.3 443.8L608.8 445.1L609.3 446.4L609.8 447.6L610.3 448.7L610.8 449.8L611.3 450.9L611.8 451.9L612.3 452.9L612.8 453.8L613.3 454.7L613.8 455.6L614.3 456.3L614.8 457.1L615.3 457.8L615.8 458.5L616.3 459.1L616.8 459.7L617.3 460.2L617.8 460.8L618.3 461.3L618.8 461.7L619.3 462.2L619.8 462.6L620.3 463.0L620.8 463.4L621.3 463.7L621.8 464.0L622.3 464.4L622.8 464.7L623.3 465.0L623.8 465.2L624.3 465.5L624.8 465.8L625.3 466.0L625.8 466.3L626.3 466.5L626.8 466.7L627.3 466.9L627.8 467.1L628.3 467.4L628.8 467.6L629.3 467.8L629.8 468.0L630.3 468.1L630.8 468.3L631.3 468.5L631.8 468.7L632.3 468.9L632.8 469.1L633.3 469.2L633.8 469.4L634.3 469.6L634.8 469.7L635.3 469.9L635.8 470.1L636.3 470.2L636.8 470.4L637.3 470.6L637.8 470.7L638.3 470.9L638.8 471.0L639.3 471.2L639.8 471.3L640.3 471.5L640.8 471.7L641.3 471.8L641.8 472.0L642.3 472.1L642.8 472.3L643.3 472.4L643.8 472.6L644.3 472.7L644.8 472.8L645.3 473.0L645.8 473.1L646.3 473.3L646.8 473.4L647.3 473.6L647.8 473.7L648.3 473.8L648.8 474.0L649.3 474.1L649.8 474.3L650.3 474.4L650.8 474.5L651.3 474.7" fill="none" stroke="#8000ff" stroke-width="1.6" stroke-linejoin="round"/>
<path d="M437.5 421.5C438.0 420.5 439.4 417.3 440.3 415.4C441.2 413.5 442.1 411.8 443.1 409.9C444.1 408.0 445.5 406.1 446.4 404.3C447.3 402.5 447.9 401.4 448.6 399.3C449.3 397.2 450.0 393.7 450.7 391.5C451.4 389.3 452.2 387.8 452.8 386.0C453.4 384.2 453.8 382.2 454.4 380.5C455.0 378.8 455.4 378.4 456.3 376.0C457.2 373.6 458.9 368.2 459.8 366.0C460.7 363.8 461.0 364.7 461.7 363.0C462.4 361.3 463.1 358.8 464.0 356.0C464.9 353.2 465.8 349.3 466.8 346.0C467.8 342.7 468.7 339.3 469.9 336.0C471.1 332.7 472.8 329.3 473.8 326.0C474.8 322.7 475.0 319.4 475.8 316.0C476.6 312.6 477.6 308.1 478.4 305.3C479.2 302.6 479.9 300.7 480.7 299.5C481.4 298.3 482.1 298.3 482.9 298.2C483.7 298.1 484.8 298.8 485.5 299.1C486.2 299.4 486.6 299.7 487.3 300.2C488.0 300.7 488.8 302.0 489.5 302.2C490.2 302.4 491.2 301.5 491.8 301.5C492.4 301.5 492.6 301.4 493.2 302.0C493.8 302.6 494.3 302.9 495.1 304.8C495.9 306.8 497.0 310.2 498.0 313.7C499.0 317.1 500.0 321.6 501.0 325.5C502.0 329.4 503.0 333.4 503.9 337.3C504.8 341.2 505.5 345.7 506.3 348.9C507.1 352.1 507.5 354.2 508.5 356.3C509.5 358.4 511.0 359.8 512.2 361.4C513.4 363.0 514.8 364.0 515.9 365.9C517.0 367.8 517.8 369.7 518.8 372.5C519.8 375.3 520.7 379.4 521.8 382.9C522.9 386.3 524.4 390.8 525.5 393.2C526.6 395.6 527.5 396.2 528.5 397.0C529.5 397.8 530.4 397.2 531.4 397.7C532.4 398.2 533.4 398.8 534.4 399.9C535.4 400.9 536.5 402.8 537.5 404.0C538.5 405.2 539.1 406.5 540.3 407.3C541.5 408.1 543.5 408.3 544.7 408.8C545.9 409.3 546.1 407.9 547.4 410.4C548.7 412.9 550.9 419.5 552.5 423.7C554.1 427.9 555.8 433.9 557.0 435.7C558.2 437.5 558.7 434.6 559.5 434.3C560.3 434.0 560.8 432.9 562.0 433.6C563.2 434.3 565.0 436.1 566.5 438.6C568.0 441.1 569.6 445.9 571.1 448.8C572.6 451.7 574.3 454.2 575.5 456.2C576.7 458.2 577.3 460.6 578.2 460.6C579.1 460.6 579.7 459.4 580.7 456.2C581.7 453.0 583.3 445.3 584.4 441.4C585.5 437.4 586.1 434.8 587.3 432.5C588.5 430.2 590.3 428.9 591.8 427.4C593.3 425.9 595.0 424.6 596.2 423.7C597.4 422.8 597.9 421.2 599.1 422.2C600.3 423.2 602.2 426.4 603.6 429.6C605.0 432.8 606.1 439.0 607.3 441.4C608.4 443.8 609.4 443.7 610.5 443.8C611.6 443.9 612.9 442.1 613.9 442.2C614.9 442.3 615.7 442.7 616.6 444.4C617.5 446.1 618.5 449.8 619.4 452.2C620.3 454.6 621.0 456.8 622.2 458.8C623.4 460.8 625.1 462.7 626.6 464.4C628.1 466.1 629.6 467.3 631.1 468.8C632.6 470.3 634.0 471.9 635.5 473.2C637.0 474.5 638.4 475.9 639.9 476.6C641.4 477.4 642.9 477.6 644.4 477.7C645.9 477.8 647.6 477.4 648.8 477.1C650.0 476.8 651.1 476.2 651.6 476.0" fill="none" stroke="#000" stroke-width="1.6"/>
<path d="M436.4 407.4C437.0 407.1 438.9 406.2 440.3 405.4C441.7 404.6 443.5 403.9 444.8 402.7C446.1 401.5 447.2 399.8 448.1 398.2C449.1 396.6 449.8 394.4 450.5 393.0C451.2 391.6 451.5 391.2 452.2 390.0C452.9 388.8 454.0 387.6 454.7 386.0C455.4 384.4 455.7 382.2 456.3 380.5C456.9 378.8 457.5 377.8 458.2 376.0C458.9 374.2 459.9 371.7 460.5 370.0C461.1 368.3 461.1 367.2 461.5 366.0C461.9 364.8 462.6 364.7 463.2 363.0C463.8 361.3 464.2 358.8 464.9 356.0C465.6 353.2 466.6 349.3 467.5 346.0C468.4 342.7 469.1 339.3 470.0 336.0C470.9 332.7 471.8 329.3 472.7 326.0C473.6 322.7 474.5 318.7 475.3 316.0C476.1 313.3 476.9 311.7 477.6 309.8C478.4 307.9 478.9 305.8 479.8 304.4C480.7 303.0 481.8 302.1 482.9 301.3C484.0 300.5 485.3 300.2 486.4 299.8C487.5 299.4 488.5 298.9 489.5 298.9C490.5 298.9 491.7 299.3 492.6 300.0C493.5 300.7 494.1 301.9 494.9 303.1C495.6 304.4 496.5 305.4 497.1 307.5C497.8 309.6 498.2 312.9 498.8 316.0C499.4 319.1 500.3 322.7 501.0 326.0C501.7 329.3 502.4 332.7 503.2 336.0C504.0 339.3 505.2 343.1 505.9 346.0C506.6 348.9 506.9 351.1 507.5 353.2C508.1 355.3 508.4 357.3 509.2 358.8C509.9 360.3 511.0 361.0 512.0 362.1C513.0 363.2 514.4 364.4 515.3 365.4C516.2 366.4 516.9 367.1 517.5 368.2C518.1 369.3 518.7 370.8 519.2 372.1C519.7 373.4 519.9 374.2 520.3 376.0C520.7 377.8 520.9 380.0 521.8 382.9C522.7 385.8 524.3 390.6 525.5 393.2C526.7 395.8 528.0 396.9 529.2 398.4C530.4 399.9 531.5 401.2 532.9 402.1C534.2 403.0 535.8 403.0 537.3 403.6C538.8 404.2 540.4 404.7 541.8 405.5C543.2 406.3 544.4 407.1 545.5 408.5C546.6 409.9 547.5 412.1 548.4 413.9C549.2 415.6 549.5 416.4 550.6 419.0C551.7 421.6 553.1 426.5 554.8 429.6C556.5 432.7 558.5 435.5 560.7 437.7C562.9 439.9 565.4 441.7 568.1 442.9C570.8 444.1 574.5 445.0 577.0 445.1C579.5 445.2 581.2 445.0 582.9 443.6C584.6 442.2 585.8 439.6 587.3 437.0C588.8 434.4 590.3 430.6 591.8 428.1C593.3 425.6 595.0 423.4 596.2 422.2C597.4 421.0 598.1 420.4 599.1 420.7C600.1 420.9 601.1 421.7 602.1 423.7C603.1 425.7 604.1 429.6 605.1 432.5C606.1 435.4 606.8 438.4 608.0 441.4C609.2 444.4 611.1 447.9 612.5 450.3C613.9 452.7 615.0 453.7 616.6 455.5C618.2 457.3 620.2 459.3 622.2 461.0C624.2 462.7 626.0 464.1 628.8 465.5C631.6 466.9 635.0 468.0 638.8 469.4C642.6 470.8 649.5 473.1 651.6 473.8" fill="none" stroke="#e41c1c" stroke-width="1.6"/>
</svg>
</body></html>
